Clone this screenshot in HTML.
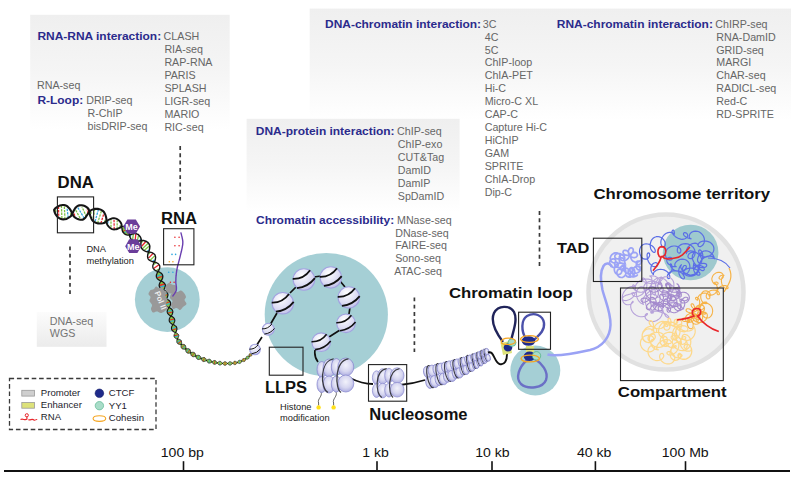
<!DOCTYPE html>
<html><head><meta charset="utf-8"><style>
html,body{margin:0;padding:0;background:#fff;width:799px;height:482px;overflow:hidden}
svg{display:block}
text{font-family:"Liberation Sans",sans-serif}
</style></head><body>
<svg width="799" height="482" viewBox="0 0 799 482">

<defs>
<linearGradient id="gTop" x1="0" y1="0" x2="0" y2="1">
  <stop offset="0" stop-color="#efefef"/><stop offset="0.5" stop-color="#f5f5f5"/><stop offset="1" stop-color="#ffffff"/>
</linearGradient>
<linearGradient id="gBot" x1="0" y1="0" x2="0" y2="1">
  <stop offset="0" stop-color="#fcfcfc"/><stop offset="1" stop-color="#ebebeb"/>
</linearGradient>
<radialGradient id="bead" cx="0.4" cy="0.3" r="0.75">
  <stop offset="0" stop-color="#ffffff"/><stop offset="0.3" stop-color="#eeeef9"/><stop offset="0.7" stop-color="#d8d8f1"/><stop offset="1" stop-color="#bcbce8"/>
</radialGradient>
<radialGradient id="lobe" cx="0.5" cy="0.4" r="0.65">
  <stop offset="0" stop-color="#f2f2fb"/><stop offset="0.55" stop-color="#d6d6f0"/><stop offset="1" stop-color="#a6a6de"/>
</radialGradient>
</defs>

<rect x="30.2" y="14.8" width="199.5" height="115" fill="url(#gTop)"/>
<rect x="309.7" y="8.6" width="481.3" height="112" fill="url(#gTop)"/>
<rect x="246.6" y="118.8" width="213" height="93" fill="url(#gTop)"/>
<rect x="36.8" y="312" width="69.7" height="34.8" fill="url(#gBot)"/>
<text transform="translate(37.4,40.2) scale(1.05,1)" font-size="11.4" fill="#2b2b8c" font-weight="bold">RNA-RNA interaction:</text>
<text x="163.6" y="40.2" font-size="10.7" fill="#666666" font-weight="normal">CLASH</text>
<text x="164.4" y="53.2" font-size="10.7" fill="#666666" font-weight="normal">RIA-seq</text>
<text x="164.4" y="66.1" font-size="10.7" fill="#666666" font-weight="normal">RAP-RNA</text>
<text x="164.4" y="79" font-size="10.7" fill="#666666" font-weight="normal">PARIS</text>
<text x="164.4" y="92" font-size="10.7" fill="#666666" font-weight="normal">SPLASH</text>
<text x="164.4" y="105" font-size="10.7" fill="#666666" font-weight="normal">LIGR-seq</text>
<text x="164.4" y="117.9" font-size="10.7" fill="#666666" font-weight="normal">MARIO</text>
<text x="164.4" y="130.8" font-size="10.7" fill="#666666" font-weight="normal">RIC-seq</text>
<text x="37" y="89.3" font-size="10.7" fill="#666666" font-weight="normal">RNA-seq</text>
<text transform="translate(37.4,104.2) scale(1.05,1)" font-size="11.4" fill="#2b2b8c" font-weight="bold">R-Loop:</text>
<text x="86.2" y="104.2" font-size="10.7" fill="#666666" font-weight="normal">DRIP-seq</text>
<text x="87.5" y="116.9" font-size="10.7" fill="#666666" font-weight="normal">R-ChIP</text>
<text x="87.5" y="129.5" font-size="10.7" fill="#666666" font-weight="normal">bisDRIP-seq</text>
<text transform="translate(325,27.5) scale(1.05,1)" font-size="11.4" fill="#2b2b8c" font-weight="bold">DNA-chromatin interaction:</text>
<text x="482.8" y="27.6" font-size="10.7" fill="#666666" font-weight="normal">3C</text>
<text x="484.7" y="40.5" font-size="10.7" fill="#666666" font-weight="normal">4C</text>
<text x="484.7" y="53.5" font-size="10.7" fill="#666666" font-weight="normal">5C</text>
<text x="484.7" y="66.4" font-size="10.7" fill="#666666" font-weight="normal">ChIP-loop</text>
<text x="484.7" y="79.4" font-size="10.7" fill="#666666" font-weight="normal">ChIA-PET</text>
<text x="484.7" y="92.3" font-size="10.7" fill="#666666" font-weight="normal">Hi-C</text>
<text x="484.7" y="105.3" font-size="10.7" fill="#666666" font-weight="normal">Micro-C XL</text>
<text x="484.7" y="118.2" font-size="10.7" fill="#666666" font-weight="normal">CAP-C</text>
<text x="484.7" y="131.2" font-size="10.7" fill="#666666" font-weight="normal">Capture Hi-C</text>
<text x="484.7" y="144.2" font-size="10.7" fill="#666666" font-weight="normal">HiChIP</text>
<text x="484.7" y="157.1" font-size="10.7" fill="#666666" font-weight="normal">GAM</text>
<text x="484.7" y="170" font-size="10.7" fill="#666666" font-weight="normal">SPRITE</text>
<text x="484.7" y="183" font-size="10.7" fill="#666666" font-weight="normal">ChIA-Drop</text>
<text x="484.7" y="195.9" font-size="10.7" fill="#666666" font-weight="normal">Dip-C</text>
<text transform="translate(556.8,27.5) scale(1.05,1)" font-size="11.4" fill="#2b2b8c" font-weight="bold">RNA-chromatin interaction:</text>
<text x="715.3" y="27.6" font-size="10.7" fill="#666666" font-weight="normal">ChIRP-seq</text>
<text x="716.3" y="40.5" font-size="10.7" fill="#666666" font-weight="normal">RNA-DamID</text>
<text x="716.3" y="53.5" font-size="10.7" fill="#666666" font-weight="normal">GRID-seq</text>
<text x="716.3" y="66.4" font-size="10.7" fill="#666666" font-weight="normal">MARGI</text>
<text x="716.3" y="79.4" font-size="10.7" fill="#666666" font-weight="normal">ChAR-seq</text>
<text x="716.3" y="92.3" font-size="10.7" fill="#666666" font-weight="normal">RADICL-seq</text>
<text x="716.3" y="105.3" font-size="10.7" fill="#666666" font-weight="normal">Red-C</text>
<text x="716.3" y="118.2" font-size="10.7" fill="#666666" font-weight="normal">RD-SPRITE</text>
<text transform="translate(255.8,135.2) scale(1.05,1)" font-size="11.4" fill="#2b2b8c" font-weight="bold">DNA-protein interaction:</text>
<text x="397.1" y="135.3" font-size="10.7" fill="#666666" font-weight="normal">ChIP-seq</text>
<text x="397.8" y="148.2" font-size="10.7" fill="#666666" font-weight="normal">ChIP-exo</text>
<text x="397.8" y="161" font-size="10.7" fill="#666666" font-weight="normal">CUT&amp;Tag</text>
<text x="397.8" y="173.9" font-size="10.7" fill="#666666" font-weight="normal">DamID</text>
<text x="397.8" y="186.7" font-size="10.7" fill="#666666" font-weight="normal">DamIP</text>
<text x="397.8" y="199.6" font-size="10.7" fill="#666666" font-weight="normal">SpDamID</text>
<text transform="translate(256,223.9) scale(1.05,1)" font-size="11.4" fill="#2b2b8c" font-weight="bold">Chromatin accessibility:</text>
<text x="397" y="223.9" font-size="10.7" fill="#666666" font-weight="normal">MNase-seq</text>
<text x="395.2" y="236.6" font-size="10.7" fill="#666666" font-weight="normal">DNase-seq</text>
<text x="395.2" y="249.3" font-size="10.7" fill="#666666" font-weight="normal">FAIRE-seq</text>
<text x="395.2" y="262" font-size="10.7" fill="#666666" font-weight="normal">Sono-seq</text>
<text x="394.3" y="274.7" font-size="10.7" fill="#666666" font-weight="normal">ATAC-seq</text>
<text x="49.8" y="324.5" font-size="10.7" fill="#747474" font-weight="normal">DNA-seq</text>
<text x="49.8" y="337.4" font-size="10.7" fill="#747474" font-weight="normal">WGS</text>
<line x1="180.2" y1="146" x2="180.2" y2="200.5" stroke="#3a3a3a" stroke-width="1.7" stroke-dasharray="3.9 3.4"/>
<line x1="70" y1="246.4" x2="70" y2="294" stroke="#3a3a3a" stroke-width="1.7" stroke-dasharray="3.9 3.4"/>
<line x1="414.4" y1="297.4" x2="414.4" y2="352" stroke="#3a3a3a" stroke-width="1.7" stroke-dasharray="3.9 3.4"/>
<line x1="539.5" y1="211" x2="539.5" y2="266" stroke="#3a3a3a" stroke-width="1.7" stroke-dasharray="3.9 3.4"/>
<circle cx="167.3" cy="299.6" r="32.4" fill="#a5cfd5"/>
<circle cx="326.3" cy="314.5" r="61.6" fill="#a5cfd5"/>
<circle cx="666" cy="292" r="77.5" fill="#f0f0f0" stroke="#e1e1e1" stroke-width="4.5"/>
<circle cx="690.6" cy="252.5" r="27.8" fill="#9ec9ce"/>
<circle cx="535.3" cy="370.5" r="25" fill="#a5cfd5"/>
<path d="M54.1 209.8 L54.4 211.4 L54.8 212.7 L55.4 214 L56.2 215.2 L57 216.3 L58 217.3 L59.2 218.2 L60.4 218.8 L61.8 219.2 L63.2 219.4 L64.8 219.3 L66.4 218.9 L67.9 218.2 L69.5 217.2 L71 216 L72.3 213.8 L72.3 213.8 L71.3 211.5 L70.4 209.9 L69.4 208.5 L68.4 207.4 L67.4 206.4 L66.3 205.7 L65.1 205.3 L63.9 205 L62.6 205 L61.3 205.2 L59.9 205.6 L58.6 206.1 L57.4 206.8 L56.2 207.6 L55.1 208.5 L54.1 209.8Z" fill="#fff"/>
<path d="M72.3 213.8 L73.5 216.2 L74.9 217.5 L76.4 218.4 L77.8 219.1 L79.2 219.5 L80.5 219.7 L81.6 219.7 L82.6 219.6 L83.5 219.2 L84.3 218.7 L85 218.1 L85.6 217.3 L86.2 216.3 L87 215.2 L87.9 213.9 L89.4 211.8 L89.4 211.8 L88.7 209.3 L87.5 207.8 L86.2 206.8 L84.7 206 L83.2 205.5 L81.8 205.2 L80.4 205.2 L79.2 205.4 L78.1 205.7 L77.1 206.3 L76.3 207 L75.5 207.8 L74.8 208.8 L74.1 210 L73.3 211.5 L72.3 213.8Z" fill="#fff"/>
<path d="M89.4 211.8 L89.8 214 L90.2 215.6 L90.7 216.9 L91.2 218.1 L91.7 219.3 L92.4 220.3 L93.2 221.2 L94.2 221.9 L95.3 222.5 L96.6 223 L98 223.4 L99.5 223.5 L101.1 223.5 L102.8 223.2 L104.6 222.7 L106.5 221.3 L106.5 221.3 L106.4 218.9 L106.1 217.2 L105.7 215.7 L105.2 214.4 L104.6 213.2 L103.9 212 L103 211.1 L102 210.3 L100.7 209.6 L99.4 209.2 L97.9 208.9 L96.3 208.8 L94.6 208.9 L92.9 209.4 L91.2 210.1 L89.4 211.8Z" fill="#fff"/>
<path d="M106.5 221.3 L106.8 223.5 L107.5 225 L108.3 226.2 L109.2 227.2 L110.2 228.1 L111.2 228.7 L112.1 229.1 L113.1 229.4 L114.1 229.5 L115 229.4 L116 229.3 L117 229 L117.9 228.6 L119 228.1 L120.1 227.6 L121.6 226.6 L121.6 226.6 L121.6 224.8 L121.2 223.5 L120.5 222.3 L119.8 221.3 L119 220.4 L118.1 219.7 L117.1 219.1 L116.1 218.7 L115.1 218.4 L114.1 218.2 L113 218.3 L111.9 218.4 L110.8 218.8 L109.6 219.3 L108.2 220 L106.5 221.3Z" fill="#fff"/>
<path d="M121.6 226.6 L121.8 227.7 L122 228.6 L122.1 229.4 L122.2 230.1 L122.4 230.7 L122.6 231.4 L122.9 232 L123.3 232.5 L123.8 233.1 L124.3 233.6 L125 234.1 L125.8 234.5 L126.6 234.8 L127.5 235.1 L128.4 235.1 L129.5 235 L129.5 235 L129.4 233.9 L129.3 233.1 L129.2 232.3 L129.1 231.6 L129 230.9 L128.8 230.3 L128.6 229.6 L128.2 229 L127.8 228.5 L127.2 227.9 L126.5 227.4 L125.7 227 L124.8 226.7 L123.9 226.4 L122.8 226.4 L121.6 226.6Z" fill="#86c545"/>
<path d="M129.5 235 L129.7 236.2 L130.1 237.3 L130.6 238.3 L131.2 239.2 L131.9 239.9 L132.6 240.5 L133.3 241 L134 241.4 L134.8 241.6 L135.5 241.7 L136.3 241.6 L137.1 241.5 L138 241.3 L138.9 241.1 L140 240.9 L141.2 240.6 L141.2 240.6 L141.2 239.3 L140.9 238.2 L140.4 237.2 L139.8 236.2 L139.1 235.4 L138.4 234.7 L137.6 234.2 L136.7 233.9 L135.9 233.6 L135 233.6 L134.2 233.6 L133.3 233.8 L132.4 234 L131.5 234.3 L130.6 234.6 L129.5 235Z" fill="#fff"/>
<path d="M141.2 240.6 L141 241.9 L140.9 242.9 L140.9 243.9 L140.8 244.9 L140.8 245.8 L141 246.6 L141.2 247.4 L141.5 248.1 L142 248.8 L142.6 249.5 L143.4 250.1 L144.2 250.6 L145.2 251.1 L146.2 251.5 L147.3 251.8 L148.6 252 L148.6 252 L149.1 250.8 L149.4 249.7 L149.6 248.6 L149.7 247.6 L149.8 246.6 L149.7 245.7 L149.4 244.8 L149 243.9 L148.5 243.1 L147.8 242.4 L146.9 241.8 L146 241.3 L144.9 240.9 L143.7 240.6 L142.5 240.5 L141.2 240.6Z" fill="#fff"/>
<path d="M148.6 252 L148.1 253.2 L147.8 254.3 L147.7 255.3 L147.6 256.2 L147.6 257 L147.8 257.8 L148 258.5 L148.3 259.1 L148.7 259.6 L149.3 260.1 L149.9 260.5 L150.6 260.9 L151.4 261.2 L152.2 261.5 L153.2 261.8 L154.3 262 L154.3 262 L154.8 261 L155.2 260 L155.4 259.1 L155.5 258.2 L155.6 257.4 L155.5 256.6 L155.3 255.9 L155.1 255.2 L154.7 254.5 L154.1 254 L153.5 253.5 L152.8 253.1 L151.9 252.7 L151 252.4 L149.9 252.1 L148.6 252Z" fill="#fff"/>
<path d="M154.3 262 L153.8 263 L153.4 263.9 L153.1 264.7 L152.9 265.4 L152.8 266.1 L152.8 266.8 L152.9 267.4 L153 268 L153.3 268.5 L153.7 269.1 L154.2 269.5 L154.7 270 L155.4 270.4 L156.1 270.8 L157 271.2 L158 271.5 L158 271.5 L158.6 270.6 L159 269.8 L159.4 269 L159.6 268.3 L159.8 267.6 L159.8 266.9 L159.8 266.2 L159.6 265.6 L159.3 265 L158.9 264.4 L158.5 263.9 L157.8 263.4 L157.1 263 L156.3 262.6 L155.4 262.2 L154.3 262Z" fill="#fff"/>
<path d="M158 271.5 L157.4 272.4 L157.1 273.1 L156.8 273.9 L156.5 274.6 L156.4 275.3 L156.3 276 L156.4 276.6 L156.5 277.2 L156.8 277.8 L157.1 278.3 L157.5 278.9 L158 279.3 L158.6 279.8 L159.3 280.2 L160.1 280.6 L161 281 L161 281 L161.6 280.2 L162 279.4 L162.3 278.7 L162.6 278 L162.7 277.3 L162.8 276.6 L162.8 276 L162.6 275.3 L162.4 274.7 L162.1 274.2 L161.6 273.6 L161.1 273.1 L160.5 272.7 L159.8 272.2 L159 271.8 L158 271.5Z" fill="#86c545"/>
<path d="M161 281 L160.4 281.8 L160 282.5 L159.7 283.2 L159.4 283.9 L159.2 284.6 L159.1 285.2 L159.2 285.8 L159.3 286.3 L159.5 286.9 L159.8 287.4 L160.2 287.9 L160.6 288.4 L161.2 288.8 L161.9 289.3 L162.6 289.7 L163.5 290 L163.5 290 L164.1 289.2 L164.5 288.5 L164.8 287.8 L165.1 287.1 L165.3 286.5 L165.4 285.9 L165.4 285.3 L165.3 284.7 L165.1 284.2 L164.8 283.7 L164.4 283.1 L163.9 282.7 L163.3 282.2 L162.7 281.8 L161.9 281.4 L161 281Z" fill="#86c545"/>
<path d="M163.5 290 L163 290.8 L162.6 291.5 L162.3 292.2 L162 292.9 L161.9 293.6 L161.9 294.2 L161.9 294.8 L162 295.4 L162.3 296 L162.6 296.5 L163 297 L163.5 297.5 L164.1 297.9 L164.7 298.3 L165.4 298.7 L166.3 299 L166.3 299 L166.8 298.2 L167.2 297.5 L167.5 296.8 L167.7 296.1 L167.9 295.5 L167.9 294.8 L167.9 294.2 L167.7 293.6 L167.5 293.1 L167.2 292.6 L166.8 292.1 L166.3 291.6 L165.7 291.2 L165.1 290.7 L164.4 290.3 L163.5 290Z" fill="#86c545"/>
<path d="M166.3 299 L165.8 299.8 L165.4 300.5 L165.1 301.2 L164.9 301.8 L164.8 302.5 L164.8 303.1 L164.8 303.6 L164.9 304.2 L165.2 304.7 L165.5 305.2 L165.9 305.6 L166.3 306 L166.9 306.4 L167.5 306.8 L168.2 307.2 L169 307.5 L169 307.5 L169.5 306.8 L169.9 306.1 L170.2 305.4 L170.4 304.8 L170.6 304.1 L170.6 303.5 L170.6 302.9 L170.5 302.4 L170.2 301.9 L169.9 301.4 L169.5 300.9 L169.1 300.5 L168.5 300.1 L167.9 299.7 L167.2 299.3 L166.3 299Z" fill="#86c545"/>
<path d="M169 307.5 L168.5 308.2 L168.1 308.9 L167.8 309.5 L167.5 310.1 L167.3 310.7 L167.2 311.3 L167.2 311.8 L167.3 312.4 L167.5 312.9 L167.7 313.4 L168.1 313.9 L168.5 314.3 L169 314.8 L169.5 315.2 L170.2 315.6 L171 316 L171 316 L171.6 315.3 L172 314.7 L172.3 314 L172.5 313.4 L172.7 312.8 L172.8 312.2 L172.8 311.7 L172.8 311.1 L172.6 310.6 L172.4 310.1 L172 309.6 L171.6 309.1 L171.1 308.7 L170.5 308.3 L169.8 307.9 L169 307.5Z" fill="#86c545"/>
<path d="M171 316 L170.4 316.7 L170 317.3 L169.7 318 L169.4 318.6 L169.3 319.2 L169.2 319.8 L169.2 320.4 L169.2 320.9 L169.4 321.4 L169.7 321.9 L170 322.4 L170.5 322.9 L171 323.3 L171.5 323.8 L172.2 324.2 L173 324.5 L173 324.5 L173.5 323.8 L173.9 323.2 L174.2 322.5 L174.5 321.9 L174.7 321.3 L174.8 320.8 L174.8 320.2 L174.7 319.7 L174.5 319.1 L174.3 318.6 L174 318.2 L173.5 317.7 L173 317.2 L172.5 316.8 L171.8 316.4 L171 316Z" fill="#86c545"/>
<path d="M173 324.5 L172.5 325.2 L172.1 325.9 L171.8 326.5 L171.6 327.2 L171.5 327.8 L171.5 328.4 L171.5 328.9 L171.7 329.5 L171.9 329.9 L172.2 330.4 L172.6 330.8 L173.1 331.2 L173.6 331.6 L174.1 331.9 L174.8 332.2 L175.5 332.5 L175.5 332.5 L176 331.9 L176.3 331.2 L176.5 330.6 L176.7 330 L176.9 329.4 L176.9 328.9 L176.9 328.3 L176.8 327.8 L176.6 327.3 L176.4 326.8 L176 326.4 L175.6 326 L175 325.6 L174.5 325.2 L173.8 324.8 L173 324.5Z" fill="#86c545"/>
<path d="M175.5 332.5 L175 333.1 L174.7 333.7 L174.4 334.2 L174.2 334.7 L174 335.2 L174 335.6 L174 336.1 L174.1 336.5 L174.2 336.9 L174.5 337.3 L174.8 337.7 L175.2 338.1 L175.7 338.4 L176.2 338.6 L176.8 338.9 L177.5 339 L177.5 339 L177.8 338.4 L178.1 337.9 L178.3 337.4 L178.5 336.9 L178.6 336.5 L178.7 336.1 L178.8 335.7 L178.7 335.3 L178.6 334.9 L178.4 334.5 L178.1 334.2 L177.8 333.8 L177.4 333.4 L176.9 333.1 L176.3 332.8 L175.5 332.5Z" fill="#86c545"/>
<path d="M177.5 339 L177.1 339.6 L176.9 340.2 L176.8 340.8 L176.8 341.4 L176.8 341.9 L176.9 342.4 L177.1 342.8 L177.3 343.2 L177.6 343.5 L178 343.8 L178.4 344 L178.9 344.2 L179.4 344.3 L180 344.4 L180.6 344.4 L181.3 344.4 L181.3 344.4 L181.4 343.7 L181.5 343.1 L181.6 342.5 L181.6 342 L181.5 341.5 L181.4 341.1 L181.3 340.7 L181.1 340.4 L180.8 340.1 L180.5 339.9 L180.1 339.7 L179.7 339.5 L179.3 339.3 L178.7 339.2 L178.2 339.1 L177.5 339Z" fill="#86c545"/>
<path d="M181.3 344.4 L181.1 345.1 L181 345.7 L181 346.2 L181.1 346.8 L181.2 347.2 L181.3 347.7 L181.6 348 L181.8 348.4 L182.2 348.6 L182.5 348.9 L183 349 L183.4 349.1 L184 349.2 L184.5 349.2 L185.1 349.1 L185.8 348.9 L185.8 348.9 L185.8 348.3 L185.9 347.7 L185.8 347.1 L185.7 346.6 L185.6 346.2 L185.5 345.8 L185.3 345.4 L185.1 345.1 L184.8 344.9 L184.4 344.7 L184 344.5 L183.6 344.4 L183.1 344.4 L182.6 344.3 L182 344.3 L181.3 344.4Z" fill="#86c545"/>
<path d="M185.8 348.9 L185.7 349.6 L185.7 350.2 L185.8 350.8 L185.9 351.3 L186.1 351.7 L186.3 352.1 L186.5 352.4 L186.8 352.7 L187.2 352.9 L187.6 353.1 L188 353.2 L188.5 353.2 L189 353.2 L189.5 353.1 L190.1 353 L190.7 352.8 L190.7 352.8 L190.7 352.1 L190.6 351.5 L190.5 351 L190.4 350.6 L190.2 350.1 L190 349.8 L189.8 349.4 L189.5 349.2 L189.2 349 L188.9 348.8 L188.5 348.7 L188 348.7 L187.5 348.7 L187 348.7 L186.4 348.8 L185.8 348.9Z" fill="#86c545"/>
<path d="M190.7 352.8 L190.7 353.5 L190.8 354 L190.9 354.5 L191 355 L191.2 355.4 L191.5 355.8 L191.8 356.1 L192.1 356.3 L192.4 356.5 L192.8 356.6 L193.2 356.7 L193.7 356.7 L194.2 356.6 L194.7 356.5 L195.2 356.3 L195.8 356 L195.8 356 L195.7 355.4 L195.6 354.8 L195.5 354.3 L195.3 353.9 L195.1 353.5 L194.9 353.2 L194.7 352.9 L194.4 352.7 L194.1 352.5 L193.7 352.4 L193.3 352.3 L192.8 352.3 L192.4 352.3 L191.9 352.4 L191.3 352.6 L190.7 352.8Z" fill="#86c545"/>
<path d="M195.8 356 L195.9 356.7 L196 357.2 L196.2 357.7 L196.4 358.1 L196.7 358.5 L196.9 358.8 L197.2 359.1 L197.6 359.3 L197.9 359.4 L198.3 359.5 L198.7 359.5 L199.2 359.4 L199.6 359.3 L200.1 359.1 L200.6 358.9 L201.1 358.5 L201.1 358.5 L201 357.9 L200.8 357.4 L200.6 357 L200.4 356.5 L200.2 356.2 L199.9 355.9 L199.6 355.6 L199.3 355.5 L199 355.3 L198.6 355.3 L198.3 355.3 L197.8 355.3 L197.4 355.4 L196.9 355.5 L196.4 355.7 L195.8 356Z" fill="#86c545"/>
<path d="M201.1 358.5 L201.3 359.2 L201.5 359.7 L201.7 360.1 L202 360.5 L202.2 360.8 L202.5 361.1 L202.9 361.3 L203.2 361.5 L203.6 361.5 L203.9 361.6 L204.3 361.5 L204.7 361.4 L205.2 361.2 L205.6 361 L206.1 360.8 L206.5 360.4 L206.5 360.4 L206.4 359.8 L206.1 359.3 L205.9 358.9 L205.6 358.5 L205.4 358.2 L205.1 357.9 L204.8 357.7 L204.5 357.6 L204.1 357.5 L203.8 357.5 L203.4 357.5 L203 357.6 L202.6 357.8 L202.1 357.9 L201.7 358.2 L201.1 358.5Z" fill="#86c545"/>
<path d="M206.5 360.4 L206.7 361 L207 361.4 L207.2 361.9 L207.5 362.2 L207.8 362.5 L208.1 362.8 L208.4 363 L208.7 363.1 L209.1 363.2 L209.4 363.1 L209.8 363.1 L210.2 363 L210.6 362.8 L211 362.5 L211.5 362.3 L211.9 361.9 L211.9 361.9 L211.7 361.3 L211.4 360.9 L211.2 360.5 L210.9 360.1 L210.7 359.8 L210.4 359.6 L210.1 359.4 L209.8 359.3 L209.4 359.2 L209.1 359.2 L208.7 359.3 L208.3 359.4 L207.9 359.5 L207.5 359.7 L207 360 L206.5 360.4Z" fill="#86c545"/>
<path d="M211.9 361.9 L212.1 362.4 L212.4 362.9 L212.7 363.2 L213 363.6 L213.3 363.8 L213.6 364.1 L213.9 364.2 L214.2 364.3 L214.6 364.3 L214.9 364.3 L215.3 364.2 L215.7 364.1 L216.1 363.9 L216.4 363.6 L216.8 363.3 L217.2 362.9 L217.2 362.9 L217 362.3 L216.7 361.9 L216.4 361.6 L216.1 361.2 L215.8 361 L215.6 360.8 L215.2 360.6 L214.9 360.5 L214.6 360.5 L214.3 360.5 L213.9 360.6 L213.5 360.7 L213.2 360.9 L212.8 361.2 L212.4 361.5 L211.9 361.9Z" fill="#86c545"/>
<path d="M217.2 362.9 L217.5 363.4 L217.8 363.8 L218.1 364.1 L218.4 364.4 L218.7 364.7 L219 364.9 L219.3 365 L219.7 365 L220 365 L220.3 365 L220.7 364.9 L221 364.7 L221.4 364.5 L221.7 364.2 L222.1 363.8 L222.5 363.4 L222.5 363.4 L222.2 362.9 L221.9 362.6 L221.6 362.2 L221.3 361.9 L221 361.7 L220.7 361.5 L220.4 361.4 L220 361.3 L219.7 361.3 L219.4 361.4 L219.1 361.5 L218.7 361.7 L218.4 361.9 L218 362.1 L217.6 362.4 L217.2 362.9Z" fill="#a6cc40"/>
<path d="M222.5 363.4 L222.7 363.9 L223.1 364.3 L223.4 364.6 L223.7 364.8 L224 365 L224.3 365.2 L224.7 365.3 L225 365.3 L225.3 365.3 L225.6 365.2 L226 365.1 L226.3 364.9 L226.6 364.6 L226.9 364.3 L227.2 364 L227.6 363.5 L227.6 363.5 L227.2 363.1 L226.9 362.7 L226.6 362.4 L226.3 362.2 L226 362 L225.7 361.8 L225.4 361.8 L225.1 361.7 L224.7 361.7 L224.4 361.8 L224.1 361.9 L223.8 362.1 L223.5 362.4 L223.1 362.6 L222.8 363 L222.5 363.4Z" fill="#a6cc40"/>
<path d="M227.6 363.5 L227.9 364 L228.2 364.3 L228.5 364.6 L228.9 364.8 L229.2 365 L229.5 365.1 L229.8 365.2 L230.2 365.2 L230.5 365.1 L230.8 365 L231.1 364.8 L231.4 364.6 L231.7 364.4 L232 364 L232.2 363.7 L232.5 363.2 L232.5 363.2 L232.2 362.8 L231.8 362.5 L231.5 362.3 L231.2 362 L230.9 361.9 L230.6 361.8 L230.2 361.7 L229.9 361.7 L229.6 361.7 L229.3 361.8 L229 362 L228.8 362.2 L228.5 362.4 L228.2 362.7 L227.9 363.1 L227.6 363.5Z" fill="#a6cc40"/>
<path d="M232.5 363.2 L232.9 363.6 L233.2 363.9 L233.5 364.1 L233.9 364.3 L234.2 364.5 L234.5 364.6 L234.9 364.6 L235.2 364.6 L235.5 364.5 L235.8 364.4 L236.1 364.2 L236.3 364 L236.6 363.7 L236.8 363.3 L237.1 363 L237.3 362.5 L237.3 362.5 L236.9 362.2 L236.5 361.9 L236.2 361.7 L235.9 361.5 L235.6 361.4 L235.3 361.3 L235 361.3 L234.7 361.3 L234.4 361.3 L234.1 361.4 L233.8 361.6 L233.6 361.8 L233.3 362.1 L233 362.4 L232.8 362.8 L232.5 363.2Z" fill="#a6cc40"/>
<path d="M237.3 362.5 L237.7 362.8 L238 363 L238.4 363.2 L238.8 363.4 L239.1 363.4 L239.4 363.5 L239.8 363.5 L240.1 363.4 L240.3 363.3 L240.6 363.1 L240.8 362.8 L241.1 362.6 L241.3 362.3 L241.4 361.9 L241.6 361.5 L241.7 361 L241.7 361 L241.3 360.8 L240.9 360.6 L240.5 360.4 L240.2 360.3 L239.9 360.3 L239.6 360.2 L239.3 360.2 L239 360.3 L238.8 360.4 L238.5 360.6 L238.3 360.8 L238.1 361 L237.9 361.3 L237.7 361.6 L237.5 362 L237.3 362.5Z" fill="#a6cc40"/>
<path d="M241.7 361 L242.1 361.3 L242.5 361.4 L242.9 361.5 L243.3 361.6 L243.6 361.6 L243.9 361.6 L244.2 361.5 L244.5 361.4 L244.8 361.3 L245 361 L245.2 360.8 L245.4 360.5 L245.5 360.1 L245.6 359.8 L245.7 359.4 L245.7 358.9 L245.7 358.9 L245.3 358.7 L244.9 358.6 L244.5 358.5 L244.2 358.5 L243.9 358.5 L243.6 358.5 L243.3 358.6 L243 358.7 L242.8 358.8 L242.6 359 L242.4 359.2 L242.2 359.5 L242.1 359.8 L241.9 360.2 L241.8 360.5 L241.7 361Z" fill="#a6cc40"/>
<path d="M245.7 358.9 L246.2 359.1 L246.6 359.2 L247 359.2 L247.3 359.2 L247.7 359.2 L248 359.1 L248.3 359 L248.5 358.8 L248.7 358.6 L248.9 358.3 L249.1 358 L249.2 357.7 L249.2 357.4 L249.3 357 L249.3 356.6 L249.2 356.2 L249.2 356.2 L248.8 356.1 L248.4 356.1 L248.1 356.1 L247.8 356.1 L247.5 356.1 L247.2 356.2 L246.9 356.3 L246.7 356.4 L246.5 356.6 L246.3 356.8 L246.1 357 L246 357.3 L245.9 357.7 L245.8 358 L245.8 358.4 L245.7 358.9Z" fill="#a6cc40"/>
<path d="M249.2 356.2 L249.7 356.3 L250.1 356.3 L250.5 356.3 L250.8 356.2 L251.1 356.1 L251.4 356 L251.6 355.8 L251.7 355.6 L251.8 355.3 L251.8 355 L251.8 354.8 L251.8 354.5 L251.7 354.2 L251.7 354 L251.6 353.7 L251.5 353.5 L251.5 353.5 L251.3 353.5 L251 353.4 L250.7 353.5 L250.5 353.5 L250.2 353.5 L249.9 353.6 L249.7 353.7 L249.5 353.8 L249.3 354 L249.2 354.2 L249.1 354.4 L249 354.7 L249 355 L249.1 355.4 L249.1 355.8 L249.2 356.2Z" fill="#a6cc40"/>
<line x1="55.7" y1="211.9" x2="55.6" y2="208.4" stroke="#7cc242" stroke-width="1.25" stroke-dasharray="2.4 1"/><line x1="58.7" y1="215.8" x2="58.5" y2="206.2" stroke="#e8262b" stroke-width="1.25" stroke-dasharray="2.4 1"/><line x1="61.9" y1="218.3" x2="61.4" y2="205.3" stroke="#7cc242" stroke-width="1.25" stroke-dasharray="2.4 1"/><line x1="65" y1="219.1" x2="64.3" y2="206" stroke="#7cc242" stroke-width="1.25" stroke-dasharray="2.4 1"/><line x1="68.2" y1="217.9" x2="67.1" y2="208.4" stroke="#2fa7e0" stroke-width="1.25" stroke-dasharray="2.4 1"/><line x1="71" y1="215.4" x2="70.5" y2="211.9" stroke="#7cc242" stroke-width="1.25" stroke-dasharray="2.4 1"/><line x1="74.8" y1="215.8" x2="73.3" y2="211.8" stroke="#e8262b" stroke-width="1.25" stroke-dasharray="2.4 1"/><line x1="80.1" y1="218.2" x2="74.8" y2="208.4" stroke="#7cc242" stroke-width="1.25" stroke-dasharray="2.4 1"/><line x1="84.3" y1="218.4" x2="77.3" y2="206.6" stroke="#2fa7e0" stroke-width="1.25" stroke-dasharray="2.4 1"/><line x1="86.5" y1="216.8" x2="81.9" y2="206.7" stroke="#7cc242" stroke-width="1.25" stroke-dasharray="2.4 1"/><line x1="88.1" y1="213.6" x2="87.2" y2="209.5" stroke="#e8262b" stroke-width="1.25" stroke-dasharray="2.4 1"/><line x1="90.9" y1="214" x2="91.1" y2="210.6" stroke="#7cc242" stroke-width="1.25" stroke-dasharray="2.4 1"/><line x1="93" y1="218.1" x2="94.9" y2="209" stroke="#7cc242" stroke-width="1.25" stroke-dasharray="2.4 1"/><line x1="95.1" y1="221.4" x2="98.5" y2="209.1" stroke="#2fa7e0" stroke-width="1.25" stroke-dasharray="2.4 1"/><line x1="97.6" y1="223.1" x2="101.4" y2="211" stroke="#7cc242" stroke-width="1.25" stroke-dasharray="2.4 1"/><line x1="100.9" y1="223.3" x2="103.6" y2="214.4" stroke="#e8262b" stroke-width="1.25" stroke-dasharray="2.4 1"/><line x1="104.7" y1="222.2" x2="105.4" y2="218.9" stroke="#7cc242" stroke-width="1.25" stroke-dasharray="2.4 1"/><line x1="107.8" y1="223.5" x2="108.1" y2="220.3" stroke="#2fa7e0" stroke-width="1.25" stroke-dasharray="2.4 1"/><line x1="111" y1="227.2" x2="111" y2="218.7" stroke="#7cc242" stroke-width="1.25" stroke-dasharray="2.4 1"/><line x1="114.2" y1="229.1" x2="114" y2="218.6" stroke="#e8262b" stroke-width="1.25" stroke-dasharray="2.4 1"/><line x1="117.1" y1="229" x2="117.2" y2="220.5" stroke="#7cc242" stroke-width="1.25" stroke-dasharray="2.4 1"/><line x1="119.9" y1="227.5" x2="120.4" y2="224.3" stroke="#7cc242" stroke-width="1.25" stroke-dasharray="2.4 1"/><line x1="122.9" y1="231.6" x2="127.3" y2="228.3" stroke="#e8262b" stroke-width="1.0"/><line x1="124.2" y1="233.2" x2="128.6" y2="230" stroke="#2fa7e0" stroke-width="1.0"/><line x1="130.3" y1="236.8" x2="130.9" y2="234.6" stroke="#2fa7e0" stroke-width="1.3"/><line x1="132.6" y1="239.7" x2="133.4" y2="233.8" stroke="#7cc242" stroke-width="1.3"/><line x1="135.1" y1="241.3" x2="135.8" y2="233.9" stroke="#e8262b" stroke-width="1.3"/><line x1="137.3" y1="241.5" x2="138.4" y2="235.6" stroke="#7cc242" stroke-width="1.3"/><line x1="139.8" y1="240.9" x2="140.6" y2="238.7" stroke="#2fa7e0" stroke-width="1.3"/><line x1="141.5" y1="242.6" x2="142.8" y2="240.5" stroke="#7cc242" stroke-width="1.3"/><line x1="141.7" y1="246.2" x2="146" y2="241.3" stroke="#e8262b" stroke-width="1.3"/><line x1="142.4" y1="248.8" x2="148.2" y2="243.3" stroke="#7cc242" stroke-width="1.3"/><line x1="144.2" y1="250.6" x2="149" y2="246.3" stroke="#7cc242" stroke-width="1.3"/><line x1="147" y1="251.7" x2="148.8" y2="250" stroke="#2fa7e0" stroke-width="1.3"/><line x1="148.4" y1="254.2" x2="150.3" y2="252.2" stroke="#7cc242" stroke-width="1.3"/><line x1="148.5" y1="258.1" x2="153.2" y2="253.3" stroke="#e8262b" stroke-width="1.3"/><line x1="149.9" y1="260.5" x2="154.7" y2="255.9" stroke="#7cc242" stroke-width="1.3"/><line x1="152.6" y1="261.6" x2="154.7" y2="259.8" stroke="#2fa7e0" stroke-width="1.3"/><line x1="153.7" y1="264.5" x2="156.3" y2="262.5" stroke="#7cc242" stroke-width="1.3"/><line x1="153.6" y1="268.5" x2="159" y2="264.8" stroke="#e8262b" stroke-width="1.3"/><line x1="156.1" y1="270.8" x2="158.8" y2="269" stroke="#7cc242" stroke-width="1.3"/><line x1="156.5" y1="276.4" x2="162.1" y2="274.6" stroke="#2fa7e0" stroke-width="1.3"/><line x1="157.1" y1="278" x2="162.6" y2="276.3" stroke="#e8262b" stroke-width="1.3"/><line x1="159.3" y1="285.5" x2="164.8" y2="284" stroke="#e8262b" stroke-width="1.3"/><line x1="159.8" y1="287.1" x2="165.2" y2="285.7" stroke="#2fa7e0" stroke-width="1.3"/><line x1="162" y1="294.6" x2="167.3" y2="293" stroke="#2fa7e0" stroke-width="1.0"/><line x1="162.6" y1="296.2" x2="167.7" y2="294.6" stroke="#e8262b" stroke-width="1.0"/><line x1="164.9" y1="303.4" x2="170" y2="301.7" stroke="#e8262b" stroke-width="1.0"/><line x1="165.5" y1="304.9" x2="170.5" y2="303.3" stroke="#2fa7e0" stroke-width="1.0"/><line x1="167.4" y1="311.6" x2="172.4" y2="310.5" stroke="#2fa7e0" stroke-width="1.0"/><line x1="167.8" y1="313.1" x2="172.7" y2="312" stroke="#e8262b" stroke-width="1.0"/><line x1="169.3" y1="320.1" x2="174.3" y2="319" stroke="#e8262b" stroke-width="1.0"/><line x1="169.7" y1="321.7" x2="174.6" y2="320.5" stroke="#2fa7e0" stroke-width="1.0"/><line x1="171.6" y1="328.6" x2="176.4" y2="327.1" stroke="#2fa7e0" stroke-width="1.0"/><line x1="172.2" y1="330.1" x2="176.8" y2="328.6" stroke="#e8262b" stroke-width="1.0"/><line x1="174.1" y1="335.8" x2="178.4" y2="334.7" stroke="#e8262b" stroke-width="1.0"/><line x1="174.4" y1="337" x2="178.6" y2="335.9" stroke="#2fa7e0" stroke-width="1.0"/><line x1="177.1" y1="342.6" x2="180.6" y2="340.1" stroke="#2fa7e0" stroke-width="1.0"/><line x1="177.9" y1="343.6" x2="181.3" y2="341" stroke="#e8262b" stroke-width="1.0"/><line x1="181.6" y1="347.8" x2="184.6" y2="344.9" stroke="#e8262b" stroke-width="0.7"/><line x1="182.4" y1="348.7" x2="185.3" y2="345.7" stroke="#2fa7e0" stroke-width="0.7"/><line x1="186.5" y1="352.2" x2="189" y2="349" stroke="#2fa7e0" stroke-width="0.7"/><line x1="187.5" y1="352.9" x2="189.9" y2="349.7" stroke="#e8262b" stroke-width="0.7"/><line x1="192.1" y1="356.2" x2="194.3" y2="352.7" stroke="#e8262b" stroke-width="0.7"/><line x1="197.6" y1="359.2" x2="199.3" y2="355.6" stroke="#2fa7e0" stroke-width="0.7"/><line x1="203.2" y1="361.4" x2="204.4" y2="357.7" stroke="#e8262b" stroke-width="0.7"/><line x1="208.7" y1="363" x2="209.7" y2="359.4" stroke="#2fa7e0" stroke-width="0.7"/><line x1="214.2" y1="364.2" x2="214.9" y2="360.6" stroke="#e8262b" stroke-width="0.7"/><line x1="219.6" y1="365" x2="220" y2="361.4" stroke="#2fa7e0" stroke-width="0.7"/><line x1="225" y1="365.2" x2="225" y2="361.8" stroke="#e8262b" stroke-width="0.7"/><line x1="230.1" y1="365.1" x2="229.9" y2="361.8" stroke="#2fa7e0" stroke-width="0.7"/><line x1="235.1" y1="364.5" x2="234.7" y2="361.3" stroke="#e8262b" stroke-width="0.7"/><line x1="240" y1="363.3" x2="239" y2="360.4" stroke="#2fa7e0" stroke-width="0.7"/><line x1="244.5" y1="361.4" x2="243.1" y2="358.7" stroke="#e8262b" stroke-width="0.7"/><line x1="248.4" y1="358.8" x2="246.7" y2="356.5" stroke="#2fa7e0" stroke-width="0.7"/><line x1="251.5" y1="355.8" x2="249.3" y2="354" stroke="#e8262b" stroke-width="0.7"/>
<path d="M54.1 209.8 L54.4 211.4 L54.8 212.7 L55.4 214 L56.2 215.2 L57 216.3 L58 217.3 L59.2 218.2 L60.4 218.8 L61.8 219.2 L63.2 219.4 L64.8 219.3 L66.4 218.9 L67.9 218.2 L69.5 217.2 L71 216 L72.3 213.8 M54.1 209.8 L55.1 208.5 L56.2 207.6 L57.4 206.8 L58.6 206.1 L59.9 205.6 L61.3 205.2 L62.6 205 L63.9 205 L65.1 205.3 L66.3 205.7 L67.4 206.4 L68.4 207.4 L69.4 208.5 L70.4 209.9 L71.3 211.5 L72.3 213.8" fill="none" stroke="#151515" stroke-width="2.1" stroke-linecap="round"/>
<path d="M72.3 213.8 L73.5 216.2 L74.9 217.5 L76.4 218.4 L77.8 219.1 L79.2 219.5 L80.5 219.7 L81.6 219.7 L82.6 219.6 L83.5 219.2 L84.3 218.7 L85 218.1 L85.6 217.3 L86.2 216.3 L87 215.2 L87.9 213.9 L89.4 211.8 M72.3 213.8 L73.3 211.5 L74.1 210 L74.8 208.8 L75.5 207.8 L76.3 207 L77.1 206.3 L78.1 205.7 L79.2 205.4 L80.4 205.2 L81.8 205.2 L83.2 205.5 L84.7 206 L86.2 206.8 L87.5 207.8 L88.7 209.3 L89.4 211.8" fill="none" stroke="#151515" stroke-width="2.1" stroke-linecap="round"/>
<path d="M89.4 211.8 L89.8 214 L90.2 215.6 L90.7 216.9 L91.2 218.1 L91.7 219.3 L92.4 220.3 L93.2 221.2 L94.2 221.9 L95.3 222.5 L96.6 223 L98 223.4 L99.5 223.5 L101.1 223.5 L102.8 223.2 L104.6 222.7 L106.5 221.3 M89.4 211.8 L91.2 210.1 L92.9 209.4 L94.6 208.9 L96.3 208.8 L97.9 208.9 L99.4 209.2 L100.7 209.6 L102 210.3 L103 211.1 L103.9 212 L104.6 213.2 L105.2 214.4 L105.7 215.7 L106.1 217.2 L106.4 218.9 L106.5 221.3" fill="none" stroke="#151515" stroke-width="2.1" stroke-linecap="round"/>
<path d="M106.5 221.3 L106.8 223.5 L107.5 225 L108.3 226.2 L109.2 227.2 L110.2 228.1 L111.2 228.7 L112.1 229.1 L113.1 229.4 L114.1 229.5 L115 229.4 L116 229.3 L117 229 L117.9 228.6 L119 228.1 L120.1 227.6 L121.6 226.6 M106.5 221.3 L108.2 220 L109.6 219.3 L110.8 218.8 L111.9 218.4 L113 218.3 L114.1 218.2 L115.1 218.4 L116.1 218.7 L117.1 219.1 L118.1 219.7 L119 220.4 L119.8 221.3 L120.5 222.3 L121.2 223.5 L121.6 224.8 L121.6 226.6" fill="none" stroke="#151515" stroke-width="1.9" stroke-linecap="round"/>
<path d="M121.6 226.6 L121.8 227.7 L122 228.6 L122.1 229.4 L122.2 230.1 L122.4 230.7 L122.6 231.4 L122.9 232 L123.3 232.5 L123.8 233.1 L124.3 233.6 L125 234.1 L125.8 234.5 L126.6 234.8 L127.5 235.1 L128.4 235.1 L129.5 235 M121.6 226.6 L122.8 226.4 L123.9 226.4 L124.8 226.7 L125.7 227 L126.5 227.4 L127.2 227.9 L127.8 228.5 L128.2 229 L128.6 229.6 L128.8 230.3 L129 230.9 L129.1 231.6 L129.2 232.3 L129.3 233.1 L129.4 233.9 L129.5 235" fill="none" stroke="#151515" stroke-width="1.4" stroke-linecap="round"/>
<path d="M129.5 235 L129.7 236.2 L130.1 237.3 L130.6 238.3 L131.2 239.2 L131.9 239.9 L132.6 240.5 L133.3 241 L134 241.4 L134.8 241.6 L135.5 241.7 L136.3 241.6 L137.1 241.5 L138 241.3 L138.9 241.1 L140 240.9 L141.2 240.6 M129.5 235 L130.6 234.6 L131.5 234.3 L132.4 234 L133.3 233.8 L134.2 233.6 L135 233.6 L135.9 233.6 L136.7 233.9 L137.6 234.2 L138.4 234.7 L139.1 235.4 L139.8 236.2 L140.4 237.2 L140.9 238.2 L141.2 239.3 L141.2 240.6" fill="none" stroke="#151515" stroke-width="1.5" stroke-linecap="round"/>
<path d="M141.2 240.6 L141 241.9 L140.9 242.9 L140.9 243.9 L140.8 244.9 L140.8 245.8 L141 246.6 L141.2 247.4 L141.5 248.1 L142 248.8 L142.6 249.5 L143.4 250.1 L144.2 250.6 L145.2 251.1 L146.2 251.5 L147.3 251.8 L148.6 252 M141.2 240.6 L142.5 240.5 L143.7 240.6 L144.9 240.9 L146 241.3 L146.9 241.8 L147.8 242.4 L148.5 243.1 L149 243.9 L149.4 244.8 L149.7 245.7 L149.8 246.6 L149.7 247.6 L149.6 248.6 L149.4 249.7 L149.1 250.8 L148.6 252" fill="none" stroke="#151515" stroke-width="1.5" stroke-linecap="round"/>
<path d="M148.6 252 L148.1 253.2 L147.8 254.3 L147.7 255.3 L147.6 256.2 L147.6 257 L147.8 257.8 L148 258.5 L148.3 259.1 L148.7 259.6 L149.3 260.1 L149.9 260.5 L150.6 260.9 L151.4 261.2 L152.2 261.5 L153.2 261.8 L154.3 262 M148.6 252 L149.9 252.1 L151 252.4 L151.9 252.7 L152.8 253.1 L153.5 253.5 L154.1 254 L154.7 254.5 L155.1 255.2 L155.3 255.9 L155.5 256.6 L155.6 257.4 L155.5 258.2 L155.4 259.1 L155.2 260 L154.8 261 L154.3 262" fill="none" stroke="#151515" stroke-width="1.4" stroke-linecap="round"/>
<path d="M154.3 262 L153.8 263 L153.4 263.9 L153.1 264.7 L152.9 265.4 L152.8 266.1 L152.8 266.8 L152.9 267.4 L153 268 L153.3 268.5 L153.7 269.1 L154.2 269.5 L154.7 270 L155.4 270.4 L156.1 270.8 L157 271.2 L158 271.5 M154.3 262 L155.4 262.2 L156.3 262.6 L157.1 263 L157.8 263.4 L158.5 263.9 L158.9 264.4 L159.3 265 L159.6 265.6 L159.8 266.2 L159.8 266.9 L159.8 267.6 L159.6 268.3 L159.4 269 L159 269.8 L158.6 270.6 L158 271.5" fill="none" stroke="#151515" stroke-width="1.3" stroke-linecap="round"/>
<path d="M158 271.5 L157.4 272.4 L157.1 273.1 L156.8 273.9 L156.5 274.6 L156.4 275.3 L156.3 276 L156.4 276.6 L156.5 277.2 L156.8 277.8 L157.1 278.3 L157.5 278.9 L158 279.3 L158.6 279.8 L159.3 280.2 L160.1 280.6 L161 281 M158 271.5 L159 271.8 L159.8 272.2 L160.5 272.7 L161.1 273.1 L161.6 273.6 L162.1 274.2 L162.4 274.7 L162.6 275.3 L162.8 276 L162.8 276.6 L162.7 277.3 L162.6 278 L162.3 278.7 L162 279.4 L161.6 280.2 L161 281" fill="none" stroke="#151515" stroke-width="1.3" stroke-linecap="round"/>
<path d="M161 281 L160.4 281.8 L160 282.5 L159.7 283.2 L159.4 283.9 L159.2 284.6 L159.1 285.2 L159.2 285.8 L159.3 286.3 L159.5 286.9 L159.8 287.4 L160.2 287.9 L160.6 288.4 L161.2 288.8 L161.9 289.3 L162.6 289.7 L163.5 290 M161 281 L161.9 281.4 L162.7 281.8 L163.3 282.2 L163.9 282.7 L164.4 283.1 L164.8 283.7 L165.1 284.2 L165.3 284.7 L165.4 285.3 L165.4 285.9 L165.3 286.5 L165.1 287.1 L164.8 287.8 L164.5 288.5 L164.1 289.2 L163.5 290" fill="none" stroke="#151515" stroke-width="1.2" stroke-linecap="round"/>
<path d="M163.5 290 L163 290.8 L162.6 291.5 L162.3 292.2 L162 292.9 L161.9 293.6 L161.9 294.2 L161.9 294.8 L162 295.4 L162.3 296 L162.6 296.5 L163 297 L163.5 297.5 L164.1 297.9 L164.7 298.3 L165.4 298.7 L166.3 299 M163.5 290 L164.4 290.3 L165.1 290.7 L165.7 291.2 L166.3 291.6 L166.8 292.1 L167.2 292.6 L167.5 293.1 L167.7 293.6 L167.9 294.2 L167.9 294.8 L167.9 295.5 L167.7 296.1 L167.5 296.8 L167.2 297.5 L166.8 298.2 L166.3 299" fill="none" stroke="#151515" stroke-width="1.2" stroke-linecap="round"/>
<path d="M166.3 299 L165.8 299.8 L165.4 300.5 L165.1 301.2 L164.9 301.8 L164.8 302.5 L164.8 303.1 L164.8 303.6 L164.9 304.2 L165.2 304.7 L165.5 305.2 L165.9 305.6 L166.3 306 L166.9 306.4 L167.5 306.8 L168.2 307.2 L169 307.5 M166.3 299 L167.2 299.3 L167.9 299.7 L168.5 300.1 L169.1 300.5 L169.5 300.9 L169.9 301.4 L170.2 301.9 L170.5 302.4 L170.6 302.9 L170.6 303.5 L170.6 304.1 L170.4 304.8 L170.2 305.4 L169.9 306.1 L169.5 306.8 L169 307.5" fill="none" stroke="#151515" stroke-width="1.2" stroke-linecap="round"/>
<path d="M169 307.5 L168.5 308.2 L168.1 308.9 L167.8 309.5 L167.5 310.1 L167.3 310.7 L167.2 311.3 L167.2 311.8 L167.3 312.4 L167.5 312.9 L167.7 313.4 L168.1 313.9 L168.5 314.3 L169 314.8 L169.5 315.2 L170.2 315.6 L171 316 M169 307.5 L169.8 307.9 L170.5 308.3 L171.1 308.7 L171.6 309.1 L172 309.6 L172.4 310.1 L172.6 310.6 L172.8 311.1 L172.8 311.7 L172.8 312.2 L172.7 312.8 L172.5 313.4 L172.3 314 L172 314.7 L171.6 315.3 L171 316" fill="none" stroke="#151515" stroke-width="1.15" stroke-linecap="round"/>
<path d="M171 316 L170.4 316.7 L170 317.3 L169.7 318 L169.4 318.6 L169.3 319.2 L169.2 319.8 L169.2 320.4 L169.2 320.9 L169.4 321.4 L169.7 321.9 L170 322.4 L170.5 322.9 L171 323.3 L171.5 323.8 L172.2 324.2 L173 324.5 M171 316 L171.8 316.4 L172.5 316.8 L173 317.2 L173.5 317.7 L174 318.2 L174.3 318.6 L174.5 319.1 L174.7 319.7 L174.8 320.2 L174.8 320.8 L174.7 321.3 L174.5 321.9 L174.2 322.5 L173.9 323.2 L173.5 323.8 L173 324.5" fill="none" stroke="#151515" stroke-width="1.1" stroke-linecap="round"/>
<path d="M173 324.5 L172.5 325.2 L172.1 325.9 L171.8 326.5 L171.6 327.2 L171.5 327.8 L171.5 328.4 L171.5 328.9 L171.7 329.5 L171.9 329.9 L172.2 330.4 L172.6 330.8 L173.1 331.2 L173.6 331.6 L174.1 331.9 L174.8 332.2 L175.5 332.5 M173 324.5 L173.8 324.8 L174.5 325.2 L175 325.6 L175.6 326 L176 326.4 L176.4 326.8 L176.6 327.3 L176.8 327.8 L176.9 328.3 L176.9 328.9 L176.9 329.4 L176.7 330 L176.5 330.6 L176.3 331.2 L176 331.9 L175.5 332.5" fill="none" stroke="#151515" stroke-width="1.1" stroke-linecap="round"/>
<path d="M175.5 332.5 L175 333.1 L174.7 333.7 L174.4 334.2 L174.2 334.7 L174 335.2 L174 335.6 L174 336.1 L174.1 336.5 L174.2 336.9 L174.5 337.3 L174.8 337.7 L175.2 338.1 L175.7 338.4 L176.2 338.6 L176.8 338.9 L177.5 339 M175.5 332.5 L176.3 332.8 L176.9 333.1 L177.4 333.4 L177.8 333.8 L178.1 334.2 L178.4 334.5 L178.6 334.9 L178.7 335.3 L178.8 335.7 L178.7 336.1 L178.6 336.5 L178.5 336.9 L178.3 337.4 L178.1 337.9 L177.8 338.4 L177.5 339" fill="none" stroke="#151515" stroke-width="0.85" stroke-linecap="round"/>
<path d="M177.5 339 L177.1 339.6 L176.9 340.2 L176.8 340.8 L176.8 341.4 L176.8 341.9 L176.9 342.4 L177.1 342.8 L177.3 343.2 L177.6 343.5 L178 343.8 L178.4 344 L178.9 344.2 L179.4 344.3 L180 344.4 L180.6 344.4 L181.3 344.4 M177.5 339 L178.2 339.1 L178.7 339.2 L179.3 339.3 L179.7 339.5 L180.1 339.7 L180.5 339.9 L180.8 340.1 L181.1 340.4 L181.3 340.7 L181.4 341.1 L181.5 341.5 L181.6 342 L181.6 342.5 L181.5 343.1 L181.4 343.7 L181.3 344.4" fill="none" stroke="#151515" stroke-width="0.828125" stroke-linecap="round"/>
<path d="M181.3 344.4 L181.1 345.1 L181 345.7 L181 346.2 L181.1 346.8 L181.2 347.2 L181.3 347.7 L181.6 348 L181.8 348.4 L182.2 348.6 L182.5 348.9 L183 349 L183.4 349.1 L184 349.2 L184.5 349.2 L185.1 349.1 L185.8 348.9 M181.3 344.4 L182 344.3 L182.6 344.3 L183.1 344.4 L183.6 344.4 L184 344.5 L184.4 344.7 L184.8 344.9 L185.1 345.1 L185.3 345.4 L185.5 345.8 L185.6 346.2 L185.7 346.6 L185.8 347.1 L185.9 347.7 L185.8 348.3 L185.8 348.9" fill="none" stroke="#151515" stroke-width="0.80625" stroke-linecap="round"/>
<path d="M185.8 348.9 L185.7 349.6 L185.7 350.2 L185.8 350.8 L185.9 351.3 L186.1 351.7 L186.3 352.1 L186.5 352.4 L186.8 352.7 L187.2 352.9 L187.6 353.1 L188 353.2 L188.5 353.2 L189 353.2 L189.5 353.1 L190.1 353 L190.7 352.8 M185.8 348.9 L186.4 348.8 L187 348.7 L187.5 348.7 L188 348.7 L188.5 348.7 L188.9 348.8 L189.2 349 L189.5 349.2 L189.8 349.4 L190 349.8 L190.2 350.1 L190.4 350.6 L190.5 351 L190.6 351.5 L190.7 352.1 L190.7 352.8" fill="none" stroke="#151515" stroke-width="0.784375" stroke-linecap="round"/>
<path d="M190.7 352.8 L190.7 353.5 L190.8 354 L190.9 354.5 L191 355 L191.2 355.4 L191.5 355.8 L191.8 356.1 L192.1 356.3 L192.4 356.5 L192.8 356.6 L193.2 356.7 L193.7 356.7 L194.2 356.6 L194.7 356.5 L195.2 356.3 L195.8 356 M190.7 352.8 L191.3 352.6 L191.9 352.4 L192.4 352.3 L192.8 352.3 L193.3 352.3 L193.7 352.4 L194.1 352.5 L194.4 352.7 L194.7 352.9 L194.9 353.2 L195.1 353.5 L195.3 353.9 L195.5 354.3 L195.6 354.8 L195.7 355.4 L195.8 356" fill="none" stroke="#151515" stroke-width="0.7625" stroke-linecap="round"/>
<path d="M195.8 356 L195.9 356.7 L196 357.2 L196.2 357.7 L196.4 358.1 L196.7 358.5 L196.9 358.8 L197.2 359.1 L197.6 359.3 L197.9 359.4 L198.3 359.5 L198.7 359.5 L199.2 359.4 L199.6 359.3 L200.1 359.1 L200.6 358.9 L201.1 358.5 M195.8 356 L196.4 355.7 L196.9 355.5 L197.4 355.4 L197.8 355.3 L198.3 355.3 L198.6 355.3 L199 355.3 L199.3 355.5 L199.6 355.6 L199.9 355.9 L200.2 356.2 L200.4 356.5 L200.6 357 L200.8 357.4 L201 357.9 L201.1 358.5" fill="none" stroke="#151515" stroke-width="0.740625" stroke-linecap="round"/>
<path d="M201.1 358.5 L201.3 359.2 L201.5 359.7 L201.7 360.1 L202 360.5 L202.2 360.8 L202.5 361.1 L202.9 361.3 L203.2 361.5 L203.6 361.5 L203.9 361.6 L204.3 361.5 L204.7 361.4 L205.2 361.2 L205.6 361 L206.1 360.8 L206.5 360.4 M201.1 358.5 L201.7 358.2 L202.1 357.9 L202.6 357.8 L203 357.6 L203.4 357.5 L203.8 357.5 L204.1 357.5 L204.5 357.6 L204.8 357.7 L205.1 357.9 L205.4 358.2 L205.6 358.5 L205.9 358.9 L206.1 359.3 L206.4 359.8 L206.5 360.4" fill="none" stroke="#151515" stroke-width="0.71875" stroke-linecap="round"/>
<path d="M206.5 360.4 L206.7 361 L207 361.4 L207.2 361.9 L207.5 362.2 L207.8 362.5 L208.1 362.8 L208.4 363 L208.7 363.1 L209.1 363.2 L209.4 363.1 L209.8 363.1 L210.2 363 L210.6 362.8 L211 362.5 L211.5 362.3 L211.9 361.9 M206.5 360.4 L207 360 L207.5 359.7 L207.9 359.5 L208.3 359.4 L208.7 359.3 L209.1 359.2 L209.4 359.2 L209.8 359.3 L210.1 359.4 L210.4 359.6 L210.7 359.8 L210.9 360.1 L211.2 360.5 L211.4 360.9 L211.7 361.3 L211.9 361.9" fill="none" stroke="#151515" stroke-width="0.696875" stroke-linecap="round"/>
<path d="M211.9 361.9 L212.1 362.4 L212.4 362.9 L212.7 363.2 L213 363.6 L213.3 363.8 L213.6 364.1 L213.9 364.2 L214.2 364.3 L214.6 364.3 L214.9 364.3 L215.3 364.2 L215.7 364.1 L216.1 363.9 L216.4 363.6 L216.8 363.3 L217.2 362.9 M211.9 361.9 L212.4 361.5 L212.8 361.2 L213.2 360.9 L213.5 360.7 L213.9 360.6 L214.3 360.5 L214.6 360.5 L214.9 360.5 L215.2 360.6 L215.6 360.8 L215.8 361 L216.1 361.2 L216.4 361.6 L216.7 361.9 L217 362.3 L217.2 362.9" fill="none" stroke="#151515" stroke-width="0.675" stroke-linecap="round"/>
<path d="M217.2 362.9 L217.5 363.4 L217.8 363.8 L218.1 364.1 L218.4 364.4 L218.7 364.7 L219 364.9 L219.3 365 L219.7 365 L220 365 L220.3 365 L220.7 364.9 L221 364.7 L221.4 364.5 L221.7 364.2 L222.1 363.8 L222.5 363.4 M217.2 362.9 L217.6 362.4 L218 362.1 L218.4 361.9 L218.7 361.7 L219.1 361.5 L219.4 361.4 L219.7 361.3 L220 361.3 L220.4 361.4 L220.7 361.5 L221 361.7 L221.3 361.9 L221.6 362.2 L221.9 362.6 L222.2 362.9 L222.5 363.4" fill="none" stroke="#151515" stroke-width="0.653125" stroke-linecap="round"/>
<path d="M222.5 363.4 L222.7 363.9 L223.1 364.3 L223.4 364.6 L223.7 364.8 L224 365 L224.3 365.2 L224.7 365.3 L225 365.3 L225.3 365.3 L225.6 365.2 L226 365.1 L226.3 364.9 L226.6 364.6 L226.9 364.3 L227.2 364 L227.6 363.5 M222.5 363.4 L222.8 363 L223.1 362.6 L223.5 362.4 L223.8 362.1 L224.1 361.9 L224.4 361.8 L224.7 361.7 L225.1 361.7 L225.4 361.8 L225.7 361.8 L226 362 L226.3 362.2 L226.6 362.4 L226.9 362.7 L227.2 363.1 L227.6 363.5" fill="none" stroke="#151515" stroke-width="0.63125" stroke-linecap="round"/>
<path d="M227.6 363.5 L227.9 364 L228.2 364.3 L228.5 364.6 L228.9 364.8 L229.2 365 L229.5 365.1 L229.8 365.2 L230.2 365.2 L230.5 365.1 L230.8 365 L231.1 364.8 L231.4 364.6 L231.7 364.4 L232 364 L232.2 363.7 L232.5 363.2 M227.6 363.5 L227.9 363.1 L228.2 362.7 L228.5 362.4 L228.8 362.2 L229 362 L229.3 361.8 L229.6 361.7 L229.9 361.7 L230.2 361.7 L230.6 361.8 L230.9 361.9 L231.2 362 L231.5 362.3 L231.8 362.5 L232.2 362.8 L232.5 363.2" fill="none" stroke="#151515" stroke-width="0.609375" stroke-linecap="round"/>
<path d="M232.5 363.2 L232.9 363.6 L233.2 363.9 L233.5 364.1 L233.9 364.3 L234.2 364.5 L234.5 364.6 L234.9 364.6 L235.2 364.6 L235.5 364.5 L235.8 364.4 L236.1 364.2 L236.3 364 L236.6 363.7 L236.8 363.3 L237.1 363 L237.3 362.5 M232.5 363.2 L232.8 362.8 L233 362.4 L233.3 362.1 L233.6 361.8 L233.8 361.6 L234.1 361.4 L234.4 361.3 L234.7 361.3 L235 361.3 L235.3 361.3 L235.6 361.4 L235.9 361.5 L236.2 361.7 L236.5 361.9 L236.9 362.2 L237.3 362.5" fill="none" stroke="#151515" stroke-width="0.5875" stroke-linecap="round"/>
<path d="M237.3 362.5 L237.7 362.8 L238 363 L238.4 363.2 L238.8 363.4 L239.1 363.4 L239.4 363.5 L239.8 363.5 L240.1 363.4 L240.3 363.3 L240.6 363.1 L240.8 362.8 L241.1 362.6 L241.3 362.3 L241.4 361.9 L241.6 361.5 L241.7 361 M237.3 362.5 L237.5 362 L237.7 361.6 L237.9 361.3 L238.1 361 L238.3 360.8 L238.5 360.6 L238.8 360.4 L239 360.3 L239.3 360.2 L239.6 360.2 L239.9 360.3 L240.2 360.3 L240.5 360.4 L240.9 360.6 L241.3 360.8 L241.7 361" fill="none" stroke="#151515" stroke-width="0.565625" stroke-linecap="round"/>
<path d="M241.7 361 L242.1 361.3 L242.5 361.4 L242.9 361.5 L243.3 361.6 L243.6 361.6 L243.9 361.6 L244.2 361.5 L244.5 361.4 L244.8 361.3 L245 361 L245.2 360.8 L245.4 360.5 L245.5 360.1 L245.6 359.8 L245.7 359.4 L245.7 358.9 M241.7 361 L241.8 360.5 L241.9 360.2 L242.1 359.8 L242.2 359.5 L242.4 359.2 L242.6 359 L242.8 358.8 L243 358.7 L243.3 358.6 L243.6 358.5 L243.9 358.5 L244.2 358.5 L244.5 358.5 L244.9 358.6 L245.3 358.7 L245.7 358.9" fill="none" stroke="#151515" stroke-width="0.54375" stroke-linecap="round"/>
<path d="M245.7 358.9 L246.2 359.1 L246.6 359.2 L247 359.2 L247.3 359.2 L247.7 359.2 L248 359.1 L248.3 359 L248.5 358.8 L248.7 358.6 L248.9 358.3 L249.1 358 L249.2 357.7 L249.2 357.4 L249.3 357 L249.3 356.6 L249.2 356.2 M245.7 358.9 L245.8 358.4 L245.8 358 L245.9 357.7 L246 357.3 L246.1 357 L246.3 356.8 L246.5 356.6 L246.7 356.4 L246.9 356.3 L247.2 356.2 L247.5 356.1 L247.8 356.1 L248.1 356.1 L248.4 356.1 L248.8 356.1 L249.2 356.2" fill="none" stroke="#151515" stroke-width="0.521875" stroke-linecap="round"/>
<path d="M249.2 356.2 L249.7 356.3 L250.1 356.3 L250.5 356.3 L250.8 356.2 L251.1 356.1 L251.4 356 L251.6 355.8 L251.7 355.6 L251.8 355.3 L251.8 355 L251.8 354.8 L251.8 354.5 L251.7 354.2 L251.7 354 L251.6 353.7 L251.5 353.5 M249.2 356.2 L249.1 355.8 L249.1 355.4 L249 355 L249 354.7 L249.1 354.4 L249.2 354.2 L249.3 354 L249.5 353.8 L249.7 353.7 L249.9 353.6 L250.2 353.5 L250.5 353.5 L250.7 353.5 L251 353.4 L251.3 353.5 L251.5 353.5" fill="none" stroke="#151515" stroke-width="0.5" stroke-linecap="round"/>
<path d="M123.2 226.6 L127.4 219.4 L135.8 219.4 L140 226.6 L135.8 233.8 L127.4 233.8Z" fill="#6a3d9a"/>
<text x="125.2" y="229.9" font-size="9" font-weight="bold" fill="#fff">Me</text>
<path d="M125.2 246.2 L129.2 239.3 L137.4 239.3 L141.4 246.2 L137.4 253.1 L129.2 253.1Z" fill="#6a3d9a"/>
<text x="126.9" y="249.5" font-size="9" font-weight="bold" fill="#fff">Me</text>
<path d="M150.5 290 L150.9 289.9 L151.5 289.8 L152.1 289.7 L152.8 289.5 L153.5 289.3 L154 289 L154.4 288.6 L154.7 288.1 L155 287.6 L155.3 287.1 L155.6 286.7 L156 286.5 L156.4 286.5 L156.9 286.8 L157.4 287.2 L158 287.5 L158.5 287.8 L159 288 L159.5 287.9 L160 287.7 L160.6 287.4 L161.1 287.1 L161.6 287 L162 287 L162.4 287.3 L162.7 287.7 L163 288.3 L163.3 288.9 L163.6 289.5 L164 290 L164.4 290.4 L164.9 290.7 L165.4 290.9 L165.9 291.2 L166.3 291.6 L166.5 292 L166.5 292.6 L166.3 293.2 L166 293.9 L165.7 294.6 L165.5 295.3 L165.5 296 L165.7 296.7 L166.1 297.3 L166.5 298 L167 298.7 L167.3 299.3 L167.5 300 L167.4 300.7 L167.1 301.3 L166.8 302 L166.4 302.7 L166.1 303.3 L166 304 L166.2 304.7 L166.6 305.4 L167.1 306.1 L167.6 306.7 L167.9 307.4 L168 308 L167.8 308.6 L167.4 309.1 L166.9 309.6 L166.3 310.1 L165.6 310.6 L165 311 L164.4 311.4 L163.7 311.9 L163.1 312.3 L162.4 312.6 L161.7 312.9 L161 313 L160.3 312.9 L159.7 312.7 L159 312.3 L158.3 311.9 L157.7 311.6 L157 311.5 L156.3 311.6 L155.6 311.8 L154.9 312.1 L154.2 312.4 L153.6 312.6 L153 312.5 L152.5 312.2 L152.1 311.7 L151.7 311.1 L151.4 310.4 L151.1 309.7 L151 309 L151 308.4 L151.2 307.7 L151.5 307 L151.8 306.4 L152 305.7 L152 305 L151.7 304.3 L151.3 303.7 L150.8 303 L150.2 302.3 L149.8 301.7 L149.5 301 L149.5 300.3 L149.7 299.6 L150 298.9 L150.3 298.3 L150.5 297.6 L150.5 297 L150.3 296.5 L149.9 296 L149.4 295.5 L149 295 L148.6 294.5 L148.5 294 L148.6 293.3 L148.9 292.6 L149.4 291.8 L149.8 291.1 L150.2 290.4 L150.5 290Z" fill="#999999"/>
<path d="M166 285 L166.3 284.7 L166.8 284.4 L167.3 283.9 L167.9 283.5 L168.5 283.2 L169 283 L169.5 283.1 L170 283.3 L170.5 283.6 L171 283.9 L171.5 284.2 L172 284.5 L172.6 284.7 L173.2 284.8 L173.9 284.9 L174.5 285 L175.1 285.2 L175.5 285.5 L175.8 285.9 L175.9 286.5 L176 287.1 L176.1 287.7 L176 288.4 L176 289 L176 289.6 L175.9 290.3 L175.8 290.9 L175.6 291.5 L175.4 292.1 L175 292.5 L174.5 292.8 L173.9 293.1 L173.2 293.3 L172.4 293.4 L171.7 293.5 L171 293.5 L170.4 293.5 L169.7 293.4 L169.1 293.3 L168.5 293.1 L168 292.8 L167.5 292.5 L167.1 292.1 L166.6 291.5 L166.2 290.9 L165.9 290.3 L165.7 289.6 L165.5 289 L165.4 288.3 L165.5 287.6 L165.6 286.8 L165.8 286.1 L165.9 285.4 L166 285Z" fill="#999999"/>
<path d="M171 294 L171.3 293.7 L171.8 293.2 L172.3 292.7 L172.9 292.2 L173.4 291.8 L174 291.5 L174.6 291.4 L175.1 291.5 L175.7 291.7 L176.3 291.9 L176.9 292 L177.5 292 L178.1 291.8 L178.7 291.5 L179.3 291.1 L179.9 290.8 L180.4 290.5 L181 290.5 L181.5 290.7 L182.1 291 L182.6 291.4 L183.1 291.9 L183.6 292.5 L184 293 L184.4 293.6 L184.9 294.3 L185.3 295 L185.6 295.7 L185.9 296.4 L186 297 L185.9 297.5 L185.6 298 L185.2 298.5 L184.9 299 L184.6 299.5 L184.5 300 L184.7 300.6 L185.1 301.3 L185.6 302 L186.1 302.7 L186.4 303.4 L186.5 304 L186.2 304.6 L185.7 305.1 L185.1 305.6 L184.3 306 L183.6 306.5 L183 307 L182.5 307.6 L182 308.2 L181.5 308.8 L181 309.4 L180.5 309.8 L180 310 L179.4 309.9 L178.9 309.6 L178.3 309.1 L177.7 308.6 L177.1 308.2 L176.5 308 L175.9 308.1 L175.3 308.3 L174.7 308.6 L174.1 308.9 L173.5 309.1 L173 309 L172.5 308.6 L172.1 308 L171.7 307.3 L171.4 306.5 L171.1 305.7 L171 305 L171.1 304.3 L171.4 303.6 L171.8 302.9 L172.2 302.3 L172.4 301.6 L172.5 301 L172.3 300.5 L171.8 300 L171.3 299.5 L170.7 299 L170.3 298.5 L170 298 L170 297.3 L170.1 296.6 L170.3 295.8 L170.6 295.1 L170.9 294.4 L171 294Z" fill="#999999"/>
<text transform="translate(154.5,292.5) rotate(68)" font-size="8" font-weight="bold" fill="#eeeeee">Pol II</text>
<path d="M180.8 232.3 L181 233.1 L181.3 234.1 L181.6 235.4 L182 236.8 L182.3 238.3 L182.6 239.8 L182.8 241.4 L182.8 243 L182.7 244.6 L182.4 246.3 L182.1 248.1 L181.7 249.9 L181.3 251.8 L180.8 253.6 L180.4 255.3 L180 257 L179.6 258.6 L179.2 260.1 L178.8 261.6 L178.4 263.1 L178 264.6 L177.6 266 L177.3 267.5 L177 269 L176.8 270.5 L176.5 272.1 L176.3 273.6 L176.2 275.2 L176 276.7 L175.9 278.2 L175.9 279.6 L175.8 281 L175.8 282.3 L175.9 283.5 L176.1 284.7 L176.2 285.8 L176.4 286.9 L176.4 288 L176.4 289 L176.3 290 L176 291 L175.6 292 L175 292.9 L174.4 293.8 L173.8 294.6 L173.3 295.4 L172.8 296 L172.5 296.5" fill="none" stroke="#6a3fb0" stroke-width="1.4"/>
<circle cx="174.9" cy="237.3" r="0.8" fill="#e8262b"/><circle cx="179.1" cy="237.3" r="0.8" fill="#e8262b"/>
<circle cx="174.9" cy="245.8" r="0.8" fill="#e8262b"/><circle cx="179.1" cy="245.8" r="0.8" fill="#e8262b"/>
<circle cx="172" cy="254.4" r="0.8" fill="#2fa7e0"/><circle cx="175.6" cy="254.4" r="0.8" fill="#2fa7e0"/>
<circle cx="169.3" cy="261.8" r="0.8" fill="#f5a623"/><circle cx="172.9" cy="261.8" r="0.8" fill="#f5a623"/>
<circle cx="168.7" cy="272.2" r="0.8" fill="#2fa7e0"/><circle cx="172.9" cy="272.2" r="0.8" fill="#2fa7e0"/>
<circle cx="170.4" cy="282.2" r="0.8" fill="#e8262b"/><circle cx="174.1" cy="282.2" r="0.8" fill="#e8262b"/>
<path d="M253.5,350 L262,337 M270,325 L277,313 M290,293 L296,287 M314,277 L321,276 M340,281 L345,287 M350,307 L349,314 M340,330 L329,337 M315,350 Q314,357 318,362" fill="none" stroke="#111" stroke-width="1.7"/>
<g transform="translate(255,349.5) rotate(0)">
<circle r="5.3" fill="url(#bead)" stroke="#a2a2e0" stroke-width="1.1"/>
<path d="M-5.7 -0.3 Q-0.2 -0.1 3.2 -4.8" fill="none" stroke="#111" stroke-width="1"/>
<path d="M-3.6 4.4 Q2.1 3.8 5.6 -0.7" fill="none" stroke="#111" stroke-width="1"/>
</g>
<g transform="translate(268.3,329.2) rotate(0)">
<circle r="5.9" fill="url(#bead)" stroke="#a2a2e0" stroke-width="1.1"/>
<path d="M-6.3 -0.3 Q-0.2 -0.1 3.5 -5.2" fill="none" stroke="#111" stroke-width="1"/>
<path d="M-4 4.9 Q2.4 4.2 6.2 -0.8" fill="none" stroke="#111" stroke-width="1"/>
</g>
<g transform="translate(282.8,303.2) rotate(0)">
<circle r="10.7" fill="url(#bead)" stroke="#a2a2e0" stroke-width="1.1"/>
<path d="M-11.1 -0.6 Q-0.3 -0.2 6.2 -9.2" fill="none" stroke="#111" stroke-width="1.8"/>
<path d="M-6.9 8.5 Q4.1 7.4 10.9 -1.3" fill="none" stroke="#111" stroke-width="1.8"/>
</g>
<g transform="translate(303.9,279.5) rotate(0)">
<circle r="10.8" fill="url(#bead)" stroke="#a2a2e0" stroke-width="1.1"/>
<path d="M-11.2 -0.6 Q-0.3 -0.2 6.2 -9.3" fill="none" stroke="#111" stroke-width="1.8"/>
<path d="M-7 8.6 Q4.2 7.5 11 -1.4" fill="none" stroke="#111" stroke-width="1.8"/>
</g>
<g transform="translate(330.8,277.4) rotate(0)">
<circle r="10.7" fill="url(#bead)" stroke="#a2a2e0" stroke-width="1.1"/>
<path d="M-11.1 -0.6 Q-0.3 -0.2 6.2 -9.2" fill="none" stroke="#111" stroke-width="1.8"/>
<path d="M-6.9 8.5 Q4.1 7.4 10.9 -1.3" fill="none" stroke="#111" stroke-width="1.8"/>
</g>
<g transform="translate(348.8,297.4) rotate(0)">
<circle r="10.7" fill="url(#bead)" stroke="#a2a2e0" stroke-width="1.1"/>
<path d="M-11.1 -0.6 Q-0.3 -0.2 6.2 -9.2" fill="none" stroke="#111" stroke-width="1.8"/>
<path d="M-6.9 8.5 Q4.1 7.4 10.9 -1.3" fill="none" stroke="#111" stroke-width="1.8"/>
</g>
<g transform="translate(346,323.3) rotate(0)">
<circle r="9.3" fill="url(#bead)" stroke="#a2a2e0" stroke-width="1.1"/>
<path d="M-9.7 -0.5 Q-0.3 -0.2 5.4 -8" fill="none" stroke="#111" stroke-width="1.6"/>
<path d="M-6.1 7.4 Q3.6 6.5 9.5 -1.2" fill="none" stroke="#111" stroke-width="1.6"/>
</g>
<g transform="translate(321.2,342.2) rotate(0)">
<circle r="9.3" fill="url(#bead)" stroke="#a2a2e0" stroke-width="1.1"/>
<path d="M-9.7 -0.5 Q-0.3 -0.2 5.4 -8" fill="none" stroke="#111" stroke-width="1.6"/>
<path d="M-6.1 7.4 Q3.6 6.5 9.5 -1.2" fill="none" stroke="#111" stroke-width="1.6"/>
</g>
<path d="M350,378 Q362,384 373,384" fill="none" stroke="#111" stroke-width="1.8"/>
<path d="M400,385 Q412,384 425,380" fill="none" stroke="#111" stroke-width="1.8"/>
<path d="M321,392 C323,396 317,399 318.6,403 L318.6,405.5" fill="none" stroke="#555" stroke-width="0.9"/>
<path d="M336,392 C338,396 332,399 333.6,403 L333.6,405.5" fill="none" stroke="#555" stroke-width="0.9"/>
<circle cx="318.6" cy="407.4" r="2.2" fill="#ffe01a"/><circle cx="333.6" cy="407.4" r="2.2" fill="#ffe01a"/>
<g transform="translate(336.3,376) scale(1.0)"><ellipse cx="-14.5" cy="-6.5" rx="4.8" ry="8" fill="url(#lobe)" stroke="#8c8cd0" stroke-width="0.8"/><ellipse cx="-14.5" cy="8.5" rx="4.8" ry="8" fill="url(#lobe)" stroke="#8c8cd0" stroke-width="0.8"/><ellipse cx="-7.3" cy="-8" rx="6" ry="9" fill="url(#lobe)" stroke="#8c8cd0" stroke-width="0.8"/><ellipse cx="-7.3" cy="8.5" rx="6" ry="8.5" fill="url(#lobe)" stroke="#8c8cd0" stroke-width="0.8"/><path d="M-2.6,-17.1 C-17,-15 -16,13 -8.3,16.4" fill="none" stroke="#3a3a40" stroke-width="1.3"/><ellipse cx="0" cy="-9" rx="5" ry="8.5" fill="url(#lobe)" stroke="#8c8cd0" stroke-width="0.8"/><ellipse cx="0" cy="8" rx="5" ry="8" fill="url(#lobe)" stroke="#8c8cd0" stroke-width="0.8"/><ellipse cx="9.5" cy="-9" rx="8" ry="9" fill="url(#lobe)" stroke="#8c8cd0" stroke-width="0.8"/><ellipse cx="9.5" cy="7.5" rx="8" ry="8.5" fill="url(#lobe)" stroke="#8c8cd0" stroke-width="0.8"/><path d="M12.2,-17.1 C-2,-15 -1.5,13 4.8,16.4" fill="none" stroke="#3a3a40" stroke-width="1.3"/></g>
<g transform="translate(389,383.3) scale(0.86)"><ellipse cx="-14.5" cy="-6.5" rx="4.8" ry="8" fill="url(#lobe)" stroke="#8c8cd0" stroke-width="0.8"/><ellipse cx="-14.5" cy="8.5" rx="4.8" ry="8" fill="url(#lobe)" stroke="#8c8cd0" stroke-width="0.8"/><ellipse cx="-7.3" cy="-8" rx="6" ry="9" fill="url(#lobe)" stroke="#8c8cd0" stroke-width="0.8"/><ellipse cx="-7.3" cy="8.5" rx="6" ry="8.5" fill="url(#lobe)" stroke="#8c8cd0" stroke-width="0.8"/><path d="M-2.6,-17.1 C-17,-15 -16,13 -8.3,16.4" fill="none" stroke="#3a3a40" stroke-width="1.3"/><ellipse cx="0" cy="-9" rx="5" ry="8.5" fill="url(#lobe)" stroke="#8c8cd0" stroke-width="0.8"/><ellipse cx="0" cy="8" rx="5" ry="8" fill="url(#lobe)" stroke="#8c8cd0" stroke-width="0.8"/><ellipse cx="9.5" cy="-9" rx="8" ry="9" fill="url(#lobe)" stroke="#8c8cd0" stroke-width="0.8"/><ellipse cx="9.5" cy="7.5" rx="8" ry="8.5" fill="url(#lobe)" stroke="#8c8cd0" stroke-width="0.8"/><path d="M12.2,-17.1 C-2,-15 -1.5,13 4.8,16.4" fill="none" stroke="#3a3a40" stroke-width="1.3"/></g>
<g transform="translate(426.8,377.5) rotate(-12)"><ellipse cx="1.4" cy="-5.1" rx="3.5" ry="5.8" fill="url(#lobe)" stroke="#8c8cd0" stroke-width="0.8"/><ellipse cx="1.4" cy="5.6" rx="3.5" ry="5.8" fill="url(#lobe)" stroke="#8c8cd0" stroke-width="0.8"/><ellipse cx="4.1" cy="0" rx="3.5" ry="11.2" fill="none" stroke="#3c3c48" stroke-width="1.2"/><ellipse cx="6.9" cy="-5.1" rx="4.4" ry="6" fill="url(#lobe)" stroke="#8c8cd0" stroke-width="0.8"/><ellipse cx="6.9" cy="5.6" rx="4.4" ry="6" fill="url(#lobe)" stroke="#8c8cd0" stroke-width="0.8"/></g>
<g transform="translate(436,375) rotate(-12)"><ellipse cx="1.3" cy="-4.9" rx="3.2" ry="5.6" fill="url(#lobe)" stroke="#8c8cd0" stroke-width="0.8"/><ellipse cx="1.3" cy="5.4" rx="3.2" ry="5.6" fill="url(#lobe)" stroke="#8c8cd0" stroke-width="0.8"/><ellipse cx="3.8" cy="0" rx="3.2" ry="10.8" fill="none" stroke="#3c3c48" stroke-width="1.1"/><ellipse cx="6.4" cy="-4.9" rx="4.1" ry="5.8" fill="url(#lobe)" stroke="#8c8cd0" stroke-width="0.8"/><ellipse cx="6.4" cy="5.4" rx="4.1" ry="5.8" fill="url(#lobe)" stroke="#8c8cd0" stroke-width="0.8"/></g>
<g transform="translate(444.5,372.3) rotate(-12)"><ellipse cx="1.3" cy="-4.7" rx="3.3" ry="5.3" fill="url(#lobe)" stroke="#8c8cd0" stroke-width="0.8"/><ellipse cx="1.3" cy="5.1" rx="3.3" ry="5.3" fill="url(#lobe)" stroke="#8c8cd0" stroke-width="0.8"/><ellipse cx="3.9" cy="0" rx="3.3" ry="10.2" fill="none" stroke="#3c3c48" stroke-width="1.1"/><ellipse cx="6.5" cy="-4.7" rx="4.1" ry="5.5" fill="url(#lobe)" stroke="#8c8cd0" stroke-width="0.8"/><ellipse cx="6.5" cy="5.1" rx="4.1" ry="5.5" fill="url(#lobe)" stroke="#8c8cd0" stroke-width="0.8"/></g>
<g transform="translate(453.1,369.4) rotate(-12)"><ellipse cx="1.1" cy="-4.3" rx="2.8" ry="4.9" fill="url(#lobe)" stroke="#8c8cd0" stroke-width="0.8"/><ellipse cx="1.1" cy="4.7" rx="2.8" ry="4.9" fill="url(#lobe)" stroke="#8c8cd0" stroke-width="0.8"/><ellipse cx="3.3" cy="0" rx="2.8" ry="9.4" fill="none" stroke="#3c3c48" stroke-width="1.1"/><ellipse cx="5.5" cy="-4.3" rx="3.6" ry="5.1" fill="url(#lobe)" stroke="#8c8cd0" stroke-width="0.8"/><ellipse cx="5.5" cy="4.7" rx="3.6" ry="5.1" fill="url(#lobe)" stroke="#8c8cd0" stroke-width="0.8"/></g>
<g transform="translate(460.5,366.6) rotate(-12)"><ellipse cx="0.9" cy="-4" rx="2.4" ry="4.5" fill="url(#lobe)" stroke="#8c8cd0" stroke-width="0.8"/><ellipse cx="0.9" cy="4.4" rx="2.4" ry="4.5" fill="url(#lobe)" stroke="#8c8cd0" stroke-width="0.8"/><ellipse cx="2.8" cy="0" rx="2.4" ry="8.8" fill="none" stroke="#3c3c48" stroke-width="1"/><ellipse cx="4.7" cy="-4" rx="3" ry="4.7" fill="url(#lobe)" stroke="#8c8cd0" stroke-width="0.8"/><ellipse cx="4.7" cy="4.4" rx="3" ry="4.7" fill="url(#lobe)" stroke="#8c8cd0" stroke-width="0.8"/></g>
<g transform="translate(466.8,363.9) rotate(-12)"><ellipse cx="0.9" cy="-3.7" rx="2.2" ry="4.2" fill="url(#lobe)" stroke="#8c8cd0" stroke-width="0.8"/><ellipse cx="0.9" cy="4.1" rx="2.2" ry="4.2" fill="url(#lobe)" stroke="#8c8cd0" stroke-width="0.8"/><ellipse cx="2.6" cy="0" rx="2.2" ry="8.2" fill="none" stroke="#3c3c48" stroke-width="1"/><ellipse cx="4.3" cy="-3.7" rx="2.7" ry="4.4" fill="url(#lobe)" stroke="#8c8cd0" stroke-width="0.8"/><ellipse cx="4.3" cy="4.1" rx="2.7" ry="4.4" fill="url(#lobe)" stroke="#8c8cd0" stroke-width="0.8"/></g>
<g transform="translate(472.5,361.5) rotate(-12)"><ellipse cx="0.7" cy="-3.5" rx="1.7" ry="4" fill="url(#lobe)" stroke="#8c8cd0" stroke-width="0.8"/><ellipse cx="0.7" cy="3.8" rx="1.7" ry="4" fill="url(#lobe)" stroke="#8c8cd0" stroke-width="0.8"/><ellipse cx="2" cy="0" rx="1.7" ry="7.6" fill="none" stroke="#3c3c48" stroke-width="1"/><ellipse cx="3.4" cy="-3.5" rx="2.2" ry="4.1" fill="url(#lobe)" stroke="#8c8cd0" stroke-width="0.8"/><ellipse cx="3.4" cy="3.8" rx="2.2" ry="4.1" fill="url(#lobe)" stroke="#8c8cd0" stroke-width="0.8"/></g>
<g transform="translate(477,359.4) rotate(-12)"><ellipse cx="0.6" cy="-3.3" rx="1.6" ry="3.7" fill="url(#lobe)" stroke="#8c8cd0" stroke-width="0.8"/><ellipse cx="0.6" cy="3.5" rx="1.6" ry="3.7" fill="url(#lobe)" stroke="#8c8cd0" stroke-width="0.8"/><ellipse cx="1.9" cy="0" rx="1.6" ry="7.1" fill="none" stroke="#3c3c48" stroke-width="0.9"/><ellipse cx="3.2" cy="-3.3" rx="2" ry="3.8" fill="url(#lobe)" stroke="#8c8cd0" stroke-width="0.8"/><ellipse cx="3.2" cy="3.5" rx="2" ry="3.8" fill="url(#lobe)" stroke="#8c8cd0" stroke-width="0.8"/></g>
<g transform="translate(481,357.3) rotate(-12)"><ellipse cx="0.6" cy="-3.1" rx="1.6" ry="3.5" fill="url(#lobe)" stroke="#8c8cd0" stroke-width="0.8"/><ellipse cx="0.6" cy="3.4" rx="1.6" ry="3.5" fill="url(#lobe)" stroke="#8c8cd0" stroke-width="0.8"/><ellipse cx="1.9" cy="0" rx="1.6" ry="6.8" fill="none" stroke="#3c3c48" stroke-width="0.9"/><ellipse cx="3.2" cy="-3.1" rx="2" ry="3.6" fill="url(#lobe)" stroke="#8c8cd0" stroke-width="0.8"/><ellipse cx="3.2" cy="3.4" rx="2" ry="3.6" fill="url(#lobe)" stroke="#8c8cd0" stroke-width="0.8"/></g>
<g transform="translate(484.2,355.4) rotate(-12)"><ellipse cx="0.7" cy="-2.9" rx="1.7" ry="3.3" fill="url(#lobe)" stroke="#8c8cd0" stroke-width="0.8"/><ellipse cx="0.7" cy="3.2" rx="1.7" ry="3.3" fill="url(#lobe)" stroke="#8c8cd0" stroke-width="0.8"/><ellipse cx="2.1" cy="0" rx="1.7" ry="6.4" fill="none" stroke="#3c3c48" stroke-width="0.9"/><ellipse cx="3.4" cy="-2.9" rx="2.2" ry="3.5" fill="url(#lobe)" stroke="#8c8cd0" stroke-width="0.8"/><ellipse cx="3.4" cy="3.2" rx="2.2" ry="3.5" fill="url(#lobe)" stroke="#8c8cd0" stroke-width="0.8"/></g>
<path d="M488,352.5 C494,350 494,362 499.5,364 C505,365.5 507,360 507,354" fill="none" stroke="#111" stroke-width="1.9"/>
<path d="M503,342 C497,334 490,322 494,313 C498,305 510,305 514,312 C518,320 513,331 511,341" fill="none" stroke="#20245a" stroke-width="2.4"/>
<path d="M526,339 C521,331 521,320 527,316 C534,312 543,315 544,323 C545,331 538,336 534,340" fill="none" stroke="#4a50aa" stroke-width="2.4"/>
<path d="M527,360 C519,367 515,378 521,384 C528,390 543,388 546,380 C549,371 541,363 535,359" fill="none" stroke="#6b70c6" stroke-width="2.4"/>
<path d="M547.5,354.5 C556,357 572,354 590,350 C602,347 610,338 610.5,325 C611,313 605,300 602.5,290 C600.5,281 600.5,271 603.5,266 C606,262 610,263 612,267" fill="none" stroke="#9aa2f5" stroke-width="2.5"/>
<path d="M500.5,343 L510,341 L512,353 L503,355Z" fill="#dde27a"/>
<ellipse cx="508" cy="347.5" rx="4.3" ry="4" fill="#1f2a8a"/>
<ellipse cx="512" cy="342.6" rx="4" ry="3.8" fill="#a8dcc8" stroke="#4cb080" stroke-width="0.7"/>
<path d="M501,342 C502,337 514,337 515.5,341.5" fill="none" stroke="#f5a623" stroke-width="1.3"/>
<path d="M501,342 C502,345.5 514,345.5 515.5,341.5" fill="none" stroke="#f5a623" stroke-width="1.1"/>
<path d="M526,346 L534,346 L534,352 L526,352Z" fill="#dde27a"/>
<ellipse cx="528.5" cy="341" rx="6.8" ry="4.8" fill="#1f2a8a"/>
<path d="M520.5,339 C522,334.5 537,334.5 538.5,339 C537,343.5 522,343.5 520.5,339Z" fill="none" stroke="#f5a623" stroke-width="1.3"/>
<ellipse cx="529.5" cy="356.3" rx="5.8" ry="4.8" fill="#1f2a8a"/>
<ellipse cx="536.5" cy="355.8" rx="4.2" ry="4.2" fill="#a8dcc8" stroke="#4cb080" stroke-width="0.7"/>
<path d="M521,358.5 C522,354 538,354 539.5,358.5 C538,363 522,363 521,358.5Z" fill="none" stroke="#f5a623" stroke-width="1.3"/>
<path d="M626 263.4 L624.4 263.8 L622.5 263.7 L620.9 262.9 L619.9 262.1 L619.3 261 L619.2 259.7 L619.7 258.6 L620.4 258 L621.5 257.8 L622.8 258.1 L623.7 258.9 L624.4 260 L624.8 261.6 L624.6 263.1 L623.9 264.8 L622.8 266.1 L621.2 267.1 L619.5 267.5 L617.8 267.4 L616.6 267 L615.7 266.3 L615 265.6 L614.7 264.7 L614.7 263.7 L615 263 L615.6 262.5 L616.4 262.3 L617.1 262.4 L617.9 262.9 L618.2 263.5 L618.4 264.6 L618.1 265.6 L617.3 266.6 L616.2 267.2 L614.9 267.5 L613.3 267.4 L611.8 266.7 L610.6 265.7 L610 264.6 L609.6 263.3 L609.7 261.8 L610.2 260.6 L610.9 259.8 L612 259.1 L613.3 258.9 L614.2 259 L615.1 259.5 L615.6 260.3 L615.8 261.1 L615.5 261.9 L614.7 262.6 L613.5 262.8 L612.6 262.5 L611.7 261.9 L610.8 260.6 L610.3 259.1 L610.3 257.6 L610.9 256 L611.8 254.7 L613.3 253.6 L614.9 252.9 L616.4 252.8 L617.9 253.1 L619.1 253.9 L619.8 254.8 L620.2 255.7 L620.2 256.8 L619.8 257.6 L619.1 258.4 L618.3 258.8 L617 258.8 L615.9 258.4 L615.1 257.6 L614.8 256.8 L614.9 255.6 L615.4 254.8 L616.6 253.8 L618 253.5 L619.6 253.6 L621.1 254.1 L622.8 255.2 L623.9 256.4 L624.8 258.2 L624.5 256.8 L623.7 255.7 L623 255.2 L621.7 254.8 L620.8 255 L620.1 255.4 L619.4 256.4 L619.3 257.6 L619.7 258.6 L620.5 259.5 L621.7 260.3 L623.2 260.6 L624.9 260.5 L626.4 259.9 L627.6 259 L628.6 257.8 L629.2 256.3 L629.3 254.5 L628.8 252.8 L627.8 251.4 L626.7 250.6 L625.4 250.3 L624.4 250.3 L623.6 250.7 L623.2 251.3 L623 252.5 L623.5 253.7 L624.6 254.6 L626 255.2 L627.4 255.4 L629 255.1 L630.5 254.5 L631.9 253.3 L632.7 252.2 L633.2 251.1 L633.3 250 L632.9 248.7 L632.2 248.1 L631 247.8 L630.1 248.1 L629.1 249.1 L628.6 250.2 L628.3 251.9 L628.6 253.6 L629.6 255.4 L631 256.7 L632.8 257.5 L634.2 257.7 L635.8 257.3 L636.9 256.4 L637.4 255.4 L637.4 254.5 L636.8 253.3 L635.9 252.6 L634.6 252.3 L633.1 252.6 L631.8 253.5 L630.9 254.8 L630.7 256.2 L630.8 258 L631.6 259.7 L632.7 260.9 L634.4 261.8 L636.2 262.2 L637.9 262 L639.2 261.5 L640.4 260.6 L641 259.6 L641.3 258.6 L640.9 257.5 L641.7 259.1 L641.8 260.9 L641.4 262.3 L640.7 263.4 L639.8 264.3 L638.6 264.7 L637.8 264.8 L636.9 264.4 L636.4 263.9 L636.1 263 L636.3 262.2 L637.1 261.4 L638 261.1 L639.1 261.1 L638.1 261.8 L637.2 262.8 L636.6 263.9 L636.2 265.2 L636.1 266.4 L636.3 267.7 L637 268.9 L637.9 269.6 L638.7 269.9 L639.6 269.7 L640.1 269.2 L640.2 268.6 L640 267.9 L639.5 267.4 L638.8 266.7 L637.6 266.4 L636.2 266.5 L634.7 267.1 L633.4 268.3 L632.6 269.8 L632.2 271.2 L632.3 273 L632.9 274.4 L633.8 275.4 L634.8 276 L635.8 276.1 L636.6 275.8 L637.4 275 L636 276.2 L634.2 276.8 L632.3 276.8 L630.7 276.1 L629.4 275.1 L628.5 273.8 L628.1 272.4 L628.2 270.7 L628.9 269.4 L630 268.6 L631 268.4 L631.9 268.7 L632.7 269.5 L633 270.4 L632.8 271.4 L632.2 272.4 L631.3 273.2 L630.2 273.6 L628.8 273.8 L627.5 273.6 L626 272.8 L625 271.9 L624.1 270.5 L623.7 269.2 L623.7 267.7 L624.1 266.4 L625 265.4 L625.6 265 L624.3 264.9 L623.1 265.2 L621.9 265.9 L621.1 266.7 L620.6 267.8 L620.8 269.1 L621.4 270.1 L622.4 270.6 L623.1 270.6 L624.4 270.1 L625.1 269.2 L625.6 267.7 L625.4 266.5 L624.9 265.2 L624 264.1 L622.6 263.3 L620.8 262.9 L619.2 263.1 L617.6 263.7 L616.3 264.8 L615.1 266.3 L614.4 268.1 L614.3 269.9 L614.7 271.6 L615.5 273 L616.7 274 L618.3 274.5 L619.5 274.4 L620.6 273.8 L621.4 272.8 L621.8 271.5 L621.5 270.3 L620.8 269.4 L619.7 269 L618.9 269.2 L618 269.8 L617.4 270.6 L617 271.7 L616.9 272.9 L617.1 274.1 L617.6 275.3 L618.6 276.5 L619.8 277.2 L621.2 277.5 L622.7 277.3 L624 276.6 L625.2 275.3 L625.8 273.8 L625.9 272.3 L625.8 271.1 L625.4 270 L624.6 269.1 L623.8 268.7 L623.1 268.6 L622.1 269.2 L621.8 269.8 L622.9 268.8 L624.4 268.2 L626.1 268.1 L627.6 268.6 L628.9 269.6 L629.9 271.1 L630.4 272.5 L630.5 273.9 L630.2 275.2 L629.4 276.2 L628.6 276.8 L627.5 276.8 L626.9 276.5 L626.3 275.6 L627.3 276.5 L628.8 277.1 L630.3 277.1 L631.6 276.7 L632.9 275.9 L634 274.6 L634.6 273.1 L634.8 271.5 L634.4 269.8 L633.6 268.6 L632.7 267.8 L631.7 267.5 L630.6 267.8 L630 268.3 L629.8 269.1 L629.9 270 L630.3 271 L631.3 272.1 L632.7 273 L634.4 273.4 L636.1 273.2 L637.5 272.8 L638.9 272 L639.9 270.9 L640.5 269.6 L640.7 268.5 L640.4 267.3 L639.9 266.5 L639.2 266.1" fill="none" stroke="#9ca4f6" stroke-width="1.7" stroke-linejoin="round"/>
<path d="M698.3 245.9 L698 244.9 L697.2 243.8 L696.3 243.4 L695.1 243.1 L693.9 243.3 L692.4 243.6 L691 244.3 L689.7 245.3 L688.3 246.7 L687.2 248.4 L686.5 250.3 L686.3 251.9 L686.4 253.6 L686.4 253.1 L686.8 252.3 L687.6 251.7 L688.9 251.1 L690.4 250.9 L692.1 251 L693.7 251.4 L695.4 252.1 L697 253 L698.4 254.1 L699.8 255.6 L700.8 257 L701.6 258.8 L701.8 260.5 L701.6 261.8 L701.2 262.6 L700.6 263.2 L700.1 263.4 L699.3 263.3 L698.9 262.9 L698.3 262.2 L697.7 261.1 L697.5 259.7 L697.8 258.4 L698.2 256.9 L698.8 255.6 L699.7 254.2 L700.8 252.9 L700.6 253.3 L700.4 253.9 L700.7 254.5 L701.2 255.3 L702.2 256.2 L703.4 256.7 L704.7 256.9 L706.5 256.9 L708.1 256.5 L709.6 255.8 L711 254.8 L712.1 253.7 L713.2 252 L713.8 250.3 L713.9 248.3 L713.6 246.7 L712.8 245.1 L711.5 243.5 L709.9 242.3 L708.2 241.6 L706.3 241.2 L704.6 241.1 L703 241.2 L701.6 241.5 L700.2 242.1 L699.1 242.9 L698.4 243.8 L698 245 L698.3 246 L698.9 246.5 L699.7 246.7 L700.7 246.6 L701.5 246.1 L702.6 245.3 L703.4 244.2 L704.1 242.7 L704.5 241 L704.4 239.6 L704.2 238.2 L703.7 236.7 L702.9 235.3 L701.7 233.9 L700.4 232.7 L698.9 231.8 L697.3 231.3 L695.4 231.1 L693.6 231.4 L692 232 L690.7 233 L689.8 234.2 L689.4 235.4 L689.2 236.3 L689.3 237.2 L689.6 237.9 L690.1 238.4 L691.1 238.8 L689.4 238.5 L687.9 238 L686.4 237.3 L685.3 236.6 L684.4 235.9 L683.8 235 L683.5 234.3 L683.5 233.6 L683.8 233 L684.3 232.7 L684.9 232.6 L685.8 232.8 L686.7 233.3 L687.2 233.9 L687.6 234.8 L687.7 235.6 L687.5 236.4 L687.2 237.1 L686.6 237.8 L685.8 238.3 L684.9 238.7 L683.6 239.2 L682 239.3 L680.7 239.1 L679.2 238.7 L677.6 238 L676.3 237.2 L675.2 236.4 L674 235.4 L673.1 234.3 L672.5 233.3 L672.2 232.2 L672 231.5 L672.2 230.8 L672.6 230.3 L673.1 230.1 L673.5 230.2 L673.9 230.7 L674.1 231.3 L674.3 232 L674.4 233 L674.3 234.3 L673.5 233.5 L672.4 232.8 L671 232.4 L669.7 232.4 L668 232.6 L666.3 233.3 L664.9 234.2 L663.7 235.4 L662.5 237 L661.5 238.9 L661 240.6 L660.8 242.3 L661 243.9 L661.3 245.1 L661.9 246.2 L662.8 246.8 L663.5 246.9 L664.3 246.6 L665 245.9 L665.2 245 L665.3 243.8 L665.1 242.4 L664.5 241 L663.6 239.6 L662.5 238.5 L661.1 237.5 L659.6 236.9 L657.9 236.5 L656.2 236.7 L654.7 237.2 L653.4 238 L652.3 239.1 L651.2 240.7 L650.7 242.2 L650.3 244 L650.2 245.7 L650.5 247.6 L650.8 249 L651.6 250.4 L652.5 251.5 L653.2 252.1 L653.9 252.5 L654.5 252.5 L654.9 252.3 L655.2 251.6 L655.3 250.6 L655 249.6 L654.3 248.2 L653.4 247 L652.3 246 L651 245.2 L649.4 244.4 L647.7 244 L646.2 243.8 L644.7 244 L643.2 244.5 L641.9 245.4 L640.8 246.7 L640.1 248.2 L639.7 249.7 L639.5 251.3 L639.8 253.1 L640.1 254.6 L640.7 256 L641.4 257.1 L642.6 258.2 L643.8 258.9 L645.1 259.2 L646.3 259.2 L647.2 259 L648 258.5 L648.7 257.6 L649.1 256.8 L649.5 256 L649.7 255.1 L649.6 254.2 L649.5 253.6 L649 253 L648.3 252.9 L647.9 253.1 L647.4 253.7 L647.1 254.7 L647.1 255.8 L647.2 257 L647.4 258.4 L647.8 259.9 L648.3 261.3 L649.2 262.9 L650.4 264.4 L651.6 265.4 L652.7 266.2 L654.1 266.7 L655.4 266.7 L656.3 266.6 L657 266.2 L657.6 265.4 L657.8 264.9 L657.7 263.9 L657.1 263.2 L656.5 262.8 L655.9 262.7 L655.1 262.7 L654.2 263 L653.1 263.6 L652.1 264.5 L651.4 265.8 L651 267.1 L650.8 268.7 L651 270.5 L651.5 272 L652.3 273.3 L653.4 274.7 L653.3 274 L653.5 273.3 L654 272.2 L654.8 271.4 L656 270.5 L657.4 269.8 L658.8 269.5 L660.6 269.3 L662.4 269.5 L664.1 269.9 L665.7 270.7 L667 271.6 L668 272.5 L668.8 273.5 L669.3 274.8 L669.7 275.7 L669.8 276.7 L669.7 277.4 L669.5 278 L669.2 278.5 L668.7 278.6 L668.3 278.5 L667.8 278.1 L667.5 277.6 L667.3 276.6 L667.4 275.6 L667.8 274.6 L668.5 273.4 L669.4 272.6 L670.5 271.8 L671.8 271.2 L673.5 270.8 L675.2 270.7 L677 270.9 L678.6 271.4 L680 272 L681.4 272.8 L682.6 273.8 L683.5 275.1 L684.1 276.2 L684.4 277.1 L684.5 277.9 L684 278.7 L683.6 279 L683 278.9 L682.1 278.5 L681.2 277.8 L680.5 276.8 L679.8 275.6 L679.1 273.9 L678.8 272.5 L678.7 270.6 L679 268.8 L679.6 267.2 L680.4 265.8 L681.5 264.8 L681 265.2 L680.7 265.9 L680.7 266.8 L681 267.9 L681.5 269 L682.2 270.2 L683.3 271.6 L684.6 272.7 L686.2 273.7 L687.9 274.4 L689.5 274.8 L691.1 275 L692.8 274.7 L694.4 274.1 L695.7 273.3 L696.7 272.5 L697.4 271.4 L697.9 270.1 L698.1 269 L698.2 268.2 L697.9 267.4 L697.2 266.8 L696.8 266.6 L696.3 266.6 L695.6 266.8 L694.8 267.5 L694.5 268.3 L694.3 269.1 L695.3 267.7 L696.5 266.3 L698.1 265.1 L699.9 264.2 L701.4 263.7 L702.8 263.4 L704.1 263.4 L705.1 263.6 L706 263.9 L706.6 264.7 L706.7 265.7 L706.4 266.3 L705.9 266.7 L704.8 267.4 L703.6 267.7 L702 267.7 L700.2 267.4 L698.3 266.7 L696.7 265.6 L695 264 L693.8 262.2 L693 260.6 L692.5 258.8 L692.3 257.2 L692.4 255.6 L693.1 254.1 L693.9 252.9 L694.9 252.1 L693.1 252.1 L691.5 252.4 L690.1 253 L688.9 254 L688.2 255.2 L687.9 256.3 L688.1 257.2 L688.7 258 L689.5 258.5 L690.7 258.7 L691.9 258.4 L693 257.7 L693.8 256.8 L694.5 255.5 L695.1 253.8 L695.1 252 L694.7 250 L693.8 248.2 L692.6 246.7 L691.1 245.5 L689.6 244.6 L687.6 243.9 L685.5 243.6 L683.5 243.8 L681.6 244.4 L680.2 245.1 L678.9 246.2 L678 247.3 L677.5 248.6 L677.3 249.9 L677.3 250.8 L677.5 251.7 L677.9 252.4 L678.4 252.8 L679.1 253.1 L679.5 253.1 L679.9 252.9 L680.3 252.5 L680.7 251.7 L680.9 250.6 L680.7 249.5 L680.1 248.4 L679.2 247.7 L678.1 247 L676.8 246.4 L675.1 246 L673.5 246 L671.7 246.3 L670.2 246.9 L668.5 247.9 L667.2 249.1 L666.2 250.6 L665.6 252.2 L665.3 253.7 L665.4 255 L665.7 256.2 L666.1 257.3 L666.9 258.4 L667.6 259.1 L668.5 259.8 L669.4 260.1 L670.4 260.1 L671.2 260 L671.7 259.7 L672 259.3 L672.1 258.9 L672 258.3 L671.6 257.9 L671.1 257.6 L670.4 257.4 L669.5 257.4 L668.5 257.6 L667.6 258.1 L667 258.8 L666.8 259.6 L666.8 260.6 L667 261.7 L667.6 263 L668.5 264 L669.6 264.8 L671 265.6 L672.7 266.3 L674.5 266.6 L676.2 266.7 L675.7 266.6 L675.1 266.3 L674.9 265.8 L674.8 265 L674.9 264 L675.3 263 L676 262.1 L676.8 261.2 L677.8 260.5 L679 259.9 L680.6 259.3 L682.1 259.1 L683.9 259.3 L685.5 259.8 L686.9 260.6 L688.2 261.8 L689.1 263.1 L689.6 264.5 L689.9 266.4 L689.8 268.1 L689.4 269.7 L688.8 271.2 L688.1 272.3 L687.1 273.3 L686 273.9 L685 274.2 L684.1 274 L683.5 273.5 L683.3 272.5 L683.5 271.5 L684.2 270.7 L685.2 269.8 L686.5 269 L688.2 268.4 L690 268.1 L692.1 268.2 L694.1 268.6 L695.6 269.2 L697.1 270 L698.2 270.7 L699.1 272 L699.7 272.8 L699.9 273.7 L699.9 274.4 L699.5 275 L699 275.2 L698.2 275.2 L697.1 274.9 L696.3 274.2 L695.3 273.3 L694.4 271.9 L693.8 270.4 L693.4 268.5 L693.3 266.5 L693.6 264.5 L694.2 263 L693.7 263.6 L693.6 264.1 L693.8 264.9 L694.2 265.4 L695 265.8 L695.7 265.8 L696.7 265.7 L697.8 265.2 L699.1 264.5 L700 263.5 L700.8 262.4 L701.7 260.8 L702.3 259.3 L702.7 257.7 L702.9 256 L702.7 254.3 L702.3 252.7 L701.6 251.5 L701 250.7 L700.4 250.1 L699.8 249.9 L699.2 250.1 L698.7 250.7 L698.7 251.4 L698.8 252.5 L699.4 253.7 L700.2 254.5 L701.2 255.6 L701 254.7 L701 253.7 L701.4 252.7 L702.1 251.9 L703 251.4 L704.1 251 L705.8 250.8 L707.3 251 L708.9 251.5 L710.5 252.5 L711.9 253.7 L713 255.1 L713.9 256.8 L714.4 258.8 L714 258 L713.1 257.1 L711.7 256.4 L710.1 256.1 L708.3 256.2 L706.3 256.7 L704.4 257.6 L702.6 258.9 L701.1 260.6 L700 262.5 L699.4 264.1 L699.2 265.9 L699.2 267.4 L699.6 268.7 L700.6 269.8 L701.5 270.4 L702.4 270.6 L703 270.6 L703.8 270.2 L704.3 269.6 L704.3 269 L704.1 268.2 L703.6 267.2 L702.8 266.6 L701.7 266 L700.5 265.6 L699.1 265.4 L697.8 265.4 L698.4 266 L698.8 266.8 L699.1 268 L699.1 269.3 L698.8 270.9 L698.1 272.1 L697 273.5 L695.6 274.7 L694.1 275.4 L692.6 275.9 L691 276.2 L689.1 276.2 L687.1 275.6 L685.7 275 L684.6 274.1 L683.5 272.9 L682.8 271.4 L682.5 269.8 L682.5 268.7 L682.8 267.4 L683.4 266.4 L683.8 265.8 L684.6 265.5 L685.3 265.5 L686 265.8 L686.3 266.5 L686.3 267.4 L686 268.2 L685.3 269.2 L684.4 269.9 L683.4 270.4 L681.9 271.1 L680.3 271.4 L678.9 271.4 L677.5 271.2 L675.9 270.8 L674.5 270.2 L673.1 269.3 L672.1 268.4 L671.2 267.3 L670.7 266.5 L670.4 265.5 L670.3 264.7 L670.4 264.2 L670.5 263.9 L670.9 263.8 L671.1 264 L671.4 264.4 L671.6 265.1 L672 266.1 L672.1 267.2 L672.1 268.6 L671.8 270.1 L671.3 271.4 L670.5 272.7 L669.4 273.9 L668.2 274.7" fill="none" stroke="#5b6ee6" stroke-width="1.2" stroke-linejoin="round"/>
<path d="M708,258 C718,258 726,262 730,268" fill="none" stroke="#5b6ee6" stroke-width="1.2"/>
<path d="M681.7 308.3 L681.1 307.2 L680.1 306 L678.8 304.9 L677.7 304.1 L676.6 303.5 L675.3 303 L674.2 302.6 L673.1 302.4 L672.1 302.4 L671.4 302.4 L670.8 302.5 L670.5 302.8 L670.5 302.9 L670.7 303.1 L671.3 303.2 L672 303 L672.7 302.5 L673.6 301.9 L674.5 300.9 L675.3 299.7 L675.9 298.5 L676.3 297.1 L676.6 295.5 L676.7 293.8 L676.5 292.1 L676.1 290.5 L675.3 288.9 L674.5 287.7 L673.4 286.6 L672.2 285.7 L671.2 285 L670 284.6 L669.2 284.2 L668.4 284.1 L667.7 284.1 L667.2 284.1 L666.8 284.3 L666.7 284.5 L666.6 284.6 L666.8 284.8 L666.9 284.8 L667 284.9 L667.4 284.9 L667.5 284.8 L667.8 284.4 L667.8 284 L667.7 283.4 L667.6 282.7 L667.1 282.1 L666.6 281.1 L665.8 280.3 L664.8 279.4 L663.7 278.7 L662.3 278.2 L660.9 277.9 L659.5 277.9 L657.9 278.1 L656.4 278.6 L655 279.5 L653.7 280.7 L652.7 282 L651.9 283.6 L651.4 285.1 L651.1 286.6 L651 288.2 L651.1 289.6 L651.5 291.1 L651.9 292.3 L652.4 293.2 L653 294 L653.6 294.5 L654.1 294.9 L654.4 295.1 L654.6 295.2 L654.7 295.1 L654.7 294.9 L654.5 294.5 L654 294.2 L653.4 294.1 L652.6 293.9 L651.8 294 L650.8 294.1 L649.8 294.5 L648.6 294.9 L647.7 295.7 L646.7 296.8 L645.9 298.1 L645.6 299.4 L645.3 301.2 L645.5 302.9 L645.9 304.7 L646.5 306.3 L647.6 308.1 L648.7 309.5 L650.3 310.9 L651.8 312 L653.6 312.7 L652.5 313.1 L651.7 313.1 L651.3 313.1 L650.9 312.8 L650.8 312.3 L651 312 L651.5 311.9 L652.2 311.5 L653.1 311.4 L654.3 311.1 L655.5 311.1 L657 311.2 L658.6 311.5 L660.1 311.9 L661.7 312.4 L663.1 312.9 L664.4 313.4 L665.6 314 L666.8 314.9 L667.7 315.6 L668.3 316.3 L668.7 316.9 L668.7 317.4 L668.5 317.7 L667.9 317.8 L667.3 317.4 L666.6 316.9 L665.6 316 L664.9 314.8 L664 313.3 L663.2 311.4 L662.7 309.4 L662.5 307.7 L662.5 305.8 L662.8 303.9 L663.3 302.2 L663.8 300.9 L664.5 299.7 L665.5 298.8 L666.5 298.3 L667.4 298 L668.2 298 L667.1 296.7 L666 295.7 L664.8 294.9 L663.8 294.5 L663 294.3 L662.4 294.2 L662 294.4 L661.8 294.8 L661.8 295.2 L662.1 295.4 L662.7 296 L663.5 296.3 L664.6 296.5 L665.8 296.4 L667 296.2 L668.4 295.6 L669.9 294.6 L671.1 293.3 L672.1 291.9 L672.9 290.3 L673.6 288.4 L673.9 286.5 L673.9 284.7 L673.8 283 L673.4 281.5 L672.6 280 L671.4 278.6 L670.1 277.6 L668.8 277 L667.4 276.7 L665.8 276.7 L664.4 276.9 L662.9 277.5 L661.6 278.2 L660.5 279.2 L659.6 280.1 L659 280.9 L658.5 281.9 L658.3 282.7 L658.4 283.6 L658.5 284.1 L659 284.4 L659.5 284.5 L659.8 284.3 L660.2 283.9 L660.6 283.1 L660.6 282.3 L660.4 281.4 L659.9 280.3 L659.2 279.2 L658.1 278 L656.8 277.2 L655.1 276.3 L653.6 276 L651.6 275.8 L649.6 276 L650.3 276.3 L651.1 277 L651.7 278.1 L651.8 279.3 L652 281 L651.7 283 L651.2 284.5 L650.2 286.4 L649.1 287.9 L647.9 289.2 L646.1 290.5 L644.2 291.5 L642.1 292.1 L640.1 292.2 L638.3 291.9 L636.5 291.2 L635.1 290.3 L634.1 289.2 L633.3 288.3 L632.9 287.2 L632.7 286.2 L632.7 285.6 L633 285 L633.3 284.8 L633.6 284.9 L633.9 285.1 L634.5 285.7 L634.8 286.5 L633.1 286.3 L631.3 286.5 L629.5 287.1 L627.7 288 L626 289.4 L624.6 291 L623.5 292.6 L622.7 294.6 L622.3 296.5 L622.2 298.5 L622.5 300.3 L623.3 302.1 L624.3 303.4 L625.6 304.4 L627 304.7 L628.4 304.8 L629.7 304.5 L630.6 304.2 L631.6 303.6 L632.3 302.9 L632.8 302.5 L633.1 302.2 L633.2 301.7 L633.1 301.4 L632.9 301.3 L632.6 301.5 L632.3 301.9 L631.8 302.5 L631.4 303.3 L631 304.3 L630.7 305.6 L630.7 307.1 L631 308.4 L631.5 310 L632.3 311.6 L633.4 313 L634.8 314.3 L636.4 315.4 L637.8 316 L639.3 316.5 L640.8 316.8 L642.2 316.8 L643.7 316.5 L644.8 316.3 L645.7 315.9 L646.5 315.4 L647.1 314.7 L647.3 314.2 L647.5 313.9 L647.3 313.6 L647.1 313.5 L646.9 313.6 L646.5 313.8 L645.8 314.2 L645.3 314.9 L645 315.8 L645 316.8 L645.3 317.9 L645.9 318.9 L646.7 319.6 L647.9 320.5 L649.1 321 L650.6 321.4 L652.2 321.5 L653.9 321.4 L655.5 321 L656.8 320.4 L658.2 319.6 L659.5 318.6 L660.6 317.3 L661.4 316 L662 314.5 L662.2 313.2 L662.2 311.5 L661.9 309.9 L661.5 308.6 L660.7 307.3 L659.7 306.2 L658.7 305.4 L657.9 304.8 L657 304.5 L656.1 304.4 L655.4 304.5 L655 304.9 L654.6 305.3 L654.5 305.6 L654.5 305.9 L654.8 306.2 L655.2 306.3 L656 306.3 L656.8 306 L657.6 305.3 L658.4 304.3 L659.2 302.8 L659.6 301.3 L660 299.4 L660 297.5 L659.9 295.6 L659.8 296 L659.6 296.6 L659.3 297 L659 297.1 L658.5 297.3 L658 297.2 L657.3 296.9 L656.6 296.3 L656 295.4 L655.4 294.1 L655.2 292.8 L655.2 291.4 L655.1 289.8 L655.3 288.3 L655.3 286.4 L655.5 284.8 L655.8 283.2 L656.5 281.5 L657.4 279.9 L658.1 278.7 L659.3 277.7 L660.5 277.2 L661.3 277.1 L662.1 277.4 L662.5 278 L662.4 278.5 L662.1 279.5 L661.3 280.5 L660.2 281.4 L658.7 282.3 L656.9 283 L655.2 283.4 L653.3 283.6 L651.3 283.6 L649.2 283.3 L647.6 283 L646.1 282.5 L644.7 282 L643.6 281.4 L642.7 280.6 L642.1 279.5 L641.9 278.8 L642.1 278.4 L642.6 278.1 L643.4 278.1 L644.1 278.5 L644.9 279.2 L645.6 280.2 L646.3 281.5 L646.7 283 L646.9 284.7 L646.8 286.4 L646.5 288 L645.9 289.5 L645.1 291.1 L644 292.4 L642.8 293.7 L641.5 294.7 L640 295.5 L638.8 296.1 L637.3 296.4 L635.9 296.5 L634.6 296.2 L633.6 295.7 L632.9 295.2 L632.4 294.7 L632.2 294 L632.3 293.4 L632.5 293 L632.7 292.8 L633 292.6 L633.8 292.5 L634.3 292.7 L634.7 293.2 L634.9 293.9 L634.7 294.6 L634.3 295.5 L633.6 296.3 L632.7 297.4 L631.6 298.3 L630.1 299.3 L628.8 299.8 L627.4 300.3 L625.9 300.6 L624.3 300.5 L623.1 300.1 L622.6 299.6 L622.2 298.8 L622.4 298.1 L622.9 297.5 L623.6 296.6 L624.7 295.9 L625.9 295.3 L627.3 294.9 L628.8 294.4 L630.3 294 L632 293.5 L633.4 293.3 L632.9 293.2 L632.6 293.1 L632.2 293.1 L631.7 293.3 L631.4 293.3 L631.2 293.4 L631.2 293.5 L631.5 293.6 L632 293.7 L632.5 293.5 L633.5 293.3 L634.5 292.9 L635.8 292.3 L636.9 291.5 L636.3 291 L635.9 290.4 L635.6 289.6 L635.4 288.8 L635.2 287.6 L635.4 286.4 L635.8 285.2 L636.4 284 L637.3 282.8 L638.4 281.9 L639.5 281.1 L641 280.3 L642.3 279.8 L643.8 279.4 L645.2 279.1 L646.7 279 L648.3 279.1 L650 279.5 L651.5 280 L653 280.9 L654.2 282.1 L655.1 283.2 L655.8 284.4 L656 285.7 L655.9 286.8 L655.5 287.8 L655.1 288.4 L654.6 288.8 L653.8 289.1 L653.1 289.3 L652.2 289.1 L651.5 288.8 L651.1 288.6 L650.8 288 L650.8 287.8 L650.9 287.6 L651.5 287.2 L651.9 287.2 L652.9 287.3 L653.7 287.6 L654.7 288.2 L655.7 289.1 L654.3 289.4 L652.6 289.9 L651 290.6 L649.3 291.6 L647.8 292.8 L646.4 294.1 L645.1 295.7 L644.1 297.1 L643.3 298.7 L642.8 300.2 L642.4 301.5 L642.6 302.9 L643.2 303.9 L643.5 304.4 L641.7 303.6 L640.3 302.7 L638.9 301.2 L637.7 299.3 L637 297.6 L636.5 295.9 L636.4 294 L636.6 292 L637.2 290.3 L637.8 289 L638.9 287.8 L640.1 287.1 L641.4 286.8 L642.6 287 L643.3 287.4 L643.9 287.9 L644.4 288.6 L644.8 289.1 L645 289.6 L645.2 290 L645.2 290.4 L644.9 290.7 L644.6 290.7 L644.4 290.5 L644.1 290.1 L644 289.5 L643.8 288.7 L643.8 287.7 L643.8 286.9 L644 286 L644.4 285.1 L645.1 284 L646.2 283 L647.6 282.1 L649.1 281.6 L650.9 281.3 L652.9 281.3 L655 281.6 L656.9 282.3 L658.6 283.1 L660.2 284.3 L661.3 285.2 L662.3 286.6 L662.9 287.8 L663.3 288.7 L663.6 289.4 L663.7 290 L663.5 290.5 L663.1 290.7 L662.7 290.5 L662.5 290.2 L662 289.5 L661.9 288.7 L661.6 287.6 L661.6 286.5 L661.8 285.3 L662.5 286.2" fill="none" stroke="#b6a2da" stroke-width="1.1" stroke-linejoin="round"/>
<path d="M664.8 303.3 L666 303.7 L667.3 303.5 L668.3 303 L669.4 302.1 L670.2 300.7 L670.7 298.9 L670.7 297.1 L670.3 295.5 L669.4 293.9 L668.3 292.5 L666.9 291.5 L665.5 291 L664.3 290.9 L663.2 291.1 L662.4 291.6 L662 292.2 L661.9 292.7 L662 293.2 L662.5 293.9 L663.4 294.3 L664.3 294.4 L665.4 294.2 L666.9 293.7 L667.9 293 L669.2 291.8 L670.1 290.3 L670.7 288.8 L671 287.6 L671 286 L670.7 284.7 L669.9 283.6 L668.9 282.9 L668.3 282.8 L667.7 282.9 L667.2 283.3 L666.6 284.3 L666.4 285.6 L666.7 286.9 L667.2 288.1 L668.1 289.4 L669.5 290.8 L671.3 291.8 L673.1 292.2 L674.9 292.3 L676 292.1 L677.1 291.8 L678.1 290.9 L678.5 290 L678.6 289.2 L678.3 288.6 L677.7 288 L676.9 287.6 L675.8 287.5 L674.7 287.7 L673.7 288.2 L675.1 288.5 L676.5 288.9 L678 289.6 L679.1 290.5 L680.2 291.7 L680.9 292.9 L681.3 294.1 L681.3 295.2 L681.2 296 L681 296.6 L680.6 296.9 L680.1 297.1 L679.5 297.1 L679.1 296.8 L678.8 296.5 L678.5 295.9 L678.5 295.2 L678.8 294.5 L679.4 293.6 L680.3 293 L681.3 292.6 L682.5 292.3 L684.1 292.3 L685.4 292.6 L686.6 293.1 L687.9 294.2 L688.8 295.4 L689.3 296.9 L689.4 298.1 L689.1 299.3 L688.4 300.7 L687.5 301.7 L686.2 302.5 L684.9 302.9 L683.5 303 L682.4 302.9 L681.3 302.4 L680.6 301.9 L680.1 301.3 L679.9 300.5 L680.1 299.9 L680.6 299.3 L681.5 299.1 L682.4 299.4 L683.1 299.9 L683.9 300.8 L684.5 302.2 L684.8 303.7 L684.6 305.1 L684.2 306.6 L683.5 307.8 L682.5 309 L681.4 309.8 L680.2 310.4 L679 310.6 L677.8 310.6 L676.7 310.2 L675.6 309.6 L674.7 308.5 L674.1 307.5 L673.7 306.4 L673.7 305.2 L674.1 303.9 L674.8 303 L675.5 302.4 L676 302.2 L676.8 302.3 L677.4 302.8 L677.7 303.6 L677.6 304.4 L677.2 305.4 L676.3 306.3 L675.2 306.7 L674 306.9 L672.7 306.7 L671.4 306.2 L670.1 305.4 L669.1 304.3 L668.3 303 L667.7 301.4 L667.5 300 L667.6 298.7 L667.9 297.5 L668.6 296.4 L669.6 295.7 L670.5 295.5 L671.3 295.7 L671.7 296.1 L671.9 296.8 L671.9 297.8 L671.5 298.7 L670.7 299.6 L669.6 300.5 L668.1 301.1 L666.7 301.3 L665.3 301.3 L664 301 L662.7 300.5 L661.4 299.6 L660.4 298.6 L659.8 297.5 L659.6 296.3 L659.7 295.5 L660.2 294.7 L660.7 294.3 L661.3 294.3 L661.9 294.5 L662.7 295.1 L663.4 296.1 L663.5 297.1 L663.4 298.5 L663 299.6 L662.2 301.1 L661.1 302.1 L659.7 302.9 L658.2 303.4 L656.6 303.5 L655.1 303.4 L653.8 303.1 L652.6 302.6 L651.4 301.7 L650.6 300.6 L650.3 299.5 L650.3 298.6 L650.8 297.7 L651.3 297.4 L652 297.3 L653.3 297.5 L654.4 298.2 L655.1 299.2 L655.8 300.3 L656.3 302 L656.5 303.6 L656.4 305.1 L656.1 306.6 L655.5 307.9 L654.7 309 L653.8 309.8 L652.8 310.1 L652.1 310.2 L651.4 309.9 L650.8 309.2 L650.7 308.1 L651 307.1 L651.8 306.2 L652.8 305.4 L654.2 304.7 L655.7 304.4 L657.2 304.3 L658.9 304.5 L660.3 304.9 L661.8 305.7 L662.9 306.8 L663.5 307.6 L663.5 306.4 L663.1 305 L662.1 303.9 L661.2 303.1 L660 302.6 L659 302.4 L657.8 302.7 L657.2 303 L656.8 303.8 L656.8 304.3 L657.1 305.1 L657.9 305.8 L659.2 306.4 L660.6 306.7 L662.2 306.5 L663.8 306.1 L665.2 305.4 L666.4 304.4 L667.2 303.2 L667.7 301.9 L667.7 300.9 L667.2 300 L666.5 299.5 L665.9 299.4 L664.9 299.7 L664.3 300.2 L663.6 301.2 L663.3 302.5 L663.3 303.8 L663.8 305.1 L664.6 306.1 L665.8 307.1 L667.5 307.9 L669.1 308.2 L670.8 308 L672.6 307.5 L674.3 306.4 L675.4 305.2 L676.2 303.9 L676.7 302.5 L676.9 300.9 L676.4 299.2 L675.8 298.2 L675 297.4 L673.8 296.8 L672.5 296.6 L671.5 296.7 L670.6 297.2 L670.1 297.7 L669.9 298.3 L670 299 L670.3 299.4 L671 299.8 L671.9 300.1 L673.1 300.2 L674.3 300 L675.7 299.6 L676.9 298.9 L678.2 297.9 L679.1 296.7 L679.7 295.4 L680 294.2 L679.9 293.2 L679.7 292.5 L679.3 292 L678.8 291.8 L678.3 291.9 L677.8 292.2 L677.3 293 L677.1 293.9 L677.2 294.9 L677.5 295.9 L678.1 297.3 L679 298.4 L680 299.3 L681.3 300 L682.5 300.5 L683.9 300.8 L685.3 300.7 L686.6 300.3 L687.3 299.8 L687.8 299.1 L687.9 298.5 L687.8 298 L687.2 297.5 L686.4 297.2 L685.2 297.3 L684.2 297.7 L683.1 298.5 L682.1 299.7 L681.3 301.2 L680.9 302.9 L680.9 304.5 L681.1 305.8 L681.6 307 L682.3 307.9 L683 308.5 L683.7 308.8 L682.5 309.2 L681 309.2 L679.8 308.9 L678.8 308.5 L677.9 307.6 L677.3 306.5 L677.1 305.7 L677.2 304.8 L677.4 304.2 L677.8 303.8 L678.2 303.7 L679 303.8 L679.7 304.2 L680.3 305.1 L680.6 306.2 L680.6 307.5 L680.2 308.6 L679.6 309.7 L678.5 311 L677 312 L675.4 312.6 L673.5 312.7 L671.8 312.3 L670.5 311.7 L669.4 310.9 L668.5 309.9 L668 308.5 L668 307.1 L667.3 308.3 L667 309.6 L667.1 310.8 L667.6 311.7 L668 312 L668.5 312.2 L669.3 312 L669.9 311.6 L670.2 310.9 L670.6 309.7 L670.5 308.8 L670.2 307.7 L669.5 306.4 L668.5 305.4 L667.4 304.5 L665.9 303.8 L664.6 303.5 L663.1 303.5 L661.4 304 L660.2 304.6 L659.2 305.7 L658.5 307 L658.2 308 L658.4 309.3 L659 310.3 L659.6 310.8 L660.7 311 L661.7 310.6 L659.9 310.8 L658.1 310.6 L656.4 310 L655.2 309.2 L654.1 308.1 L653.3 306.8 L653 305.4 L653 304.3 L653.2 303.4 L653.8 302.7 L654.5 302.2 L655.5 302.1 L656.4 302.6 L656.8 303.1 L655.2 302.3 L653.6 301.9 L651.7 302 L650 302.6 L648.5 303.6 L647.5 304.5 L646.8 305.4 L646.4 306.8 L646.4 307.9 L646.9 308.9 L647.5 309.4 L648.3 309.6 L649.3 309.4 L650 308.9 L650.8 307.8 L651.1 306.7 L651.2 305.3 L651 303.7 L650.4 302.1 L649.3 300.5 L648.2 299.4 L646.6 298.5 L645.1 298.1 L643.8 298 L642.6 298.3 L641.8 298.7 L641.2 299.5 L641 300.1 L641.1 300.6 L641.4 301.2 L642.1 301.8 L643.1 302.1 L644.6 302.2 L645.9 301.8 L647.6 300.9 L648.8 299.8 L649.8 298.4 L650.6 296.5 L650.9 294.6 L650.7 292.7 L650.3 291.5 L649.7 290.4 L649 289.8 L648.2 289.4 L647.3 289.5 L646.6 289.9 L645.9 290.9 L645.5 292.3 L645.7 293.6 L646.3 295.2 L647.3 296.6 L648.7 297.9 L650.6 298.8 L652.5 299.1 L654 299 L655.7 298.3 L656.8 297.5 L657.8 296 L658.3 294.4 L658.3 292.5 L657.7 290.7 L656.7 289.1 L655.7 288 L654.2 287.1 L652.5 286.7 L651.3 286.7 L650.1 287.2 L649.3 288.1 L649.1 288.9 L649.4 289.8 L650.1 290.7 L651.3 291.6 L652.9 292.1 L654.5 292.2 L656.4 291.8 L657.8 291.2 L659.3 290.2 L660.5 288.9 L661.3 287.5 L661.7 286.3 L661.9 285.1 L661.7 284.1 L661.2 283.3 L660.5 282.8 L659.8 282.7 L659.1 283 L658.4 283.7 L657.8 284.8 L657.7 286 L657.9 287.2 L658.4 288.8 L659.3 290.1 L660.3 291.1 L661.8 292.1 L663.1 292.6 L664.7 292.7 L666 292.6 L667.4 291.9 L668.6 290.9 L669.3 289.7 L669.7 288.5 L669.8 287.3 L669.5 286 L669 284.9 L668.2 284.1 L667.6 283.6 L667 283.3 L666.5 283.2 L665.9 283.7 L665.6 284.2 L665.6 285.1 L665.9 286 L666.6 287.2 L667.4 288.1 L668.8 289 L670.4 289.6 L671.8 289.9 L673.7 289.8 L675.2 289.5 L676.6 288.8 L677.6 288.1 L678.3 287.1 L678.6 286.1 L678.5 285.1 L677.8 284.2 L676.9 283.8 L678.4 285.1 L679.3 286.4 L679.8 288.1 L679.8 290.1 L679.2 291.9 L678 293.6 L676.9 294.7 L675.1 295.6 L673.6 296.1 L671.9 296.1 L670.3 295.6 L669.1 294.8 L668.4 293.7 L668.2 292.7 L668 294.7 L668.3 296.6 L668.9 298.1 L669.8 299.4 L670.9 300.3 L671.9 300.8 L673.3 300.9 L674.4 300.4 L675.2 299.6 L675.5 298.9 L675.5 297.7 L675 296.4 L674 295.4 L672.7 294.7 L671.2 294.6 L670 294.8 L668.7 295.6 L668 296.6 L667.5 297.8 L667.4 299.3 L667.7 300.8 L668.4 302.2 L669.4 303.5 L670.7 304.7 L672.2 305.7 L673.8 306.2 L675.7 306.5 L677.7 306.3 L679.3 305.4" fill="none" stroke="#a48bcd" stroke-width="1.1" stroke-linejoin="round"/>
<path d="M698.8 312.4 L698 311.3 L697.4 310.2 L697.1 309.2 L696.9 308.2 L697 307.1 L697.3 306.3 L697.7 305.8 L698.1 305.5 L698.6 305.6 L698.8 306 L698.8 306.6 L698.7 307.5 L698.3 308.4 L697.8 309.2 L697 310.3 L696 311.1 L694.5 312 L692.9 312.6 L691.3 312.8 L689.6 312.6 L688.3 312.3 L687.3 311.8 L686.5 311.2 L686.1 310.6 L686.1 309.7 L686.4 309.2 L687.2 308.7 L688 308.7 L689.4 309 L690.7 309.7 L691.8 310.7 L692.7 311.8 L693.5 313.2 L694 314.8 L694.3 316.3 L694.2 318 L693.8 319.4 L693.1 320.6 L692.3 321.5 L691.3 322 L690.3 322.1 L689.2 321.8 L688.4 321.2 L687.9 320.4 L687.7 319.9 L687.8 319.5 L688.1 319.2 L688.5 319.1 L689.5 319.1 L690.3 319.5 L691.4 320.2 L692.1 321.2 L692.7 322.4 L693.1 323.7 L693.3 325 L693.2 326.5 L692.8 327.5 L692.3 328.2 L691.6 328.6 L690.8 328.7 L689.6 328.4 L688.7 327.6 L687.9 326.4 L687.4 325 L687.2 323.2 L687.5 321.2 L688 319.6 L688.8 318.1 L689.9 316.8 L691.1 315.7 L692.5 314.9 L694.1 314.5 L695.8 314.4 L697.4 314.8 L698.5 315.3 L699.4 316.1 L699.9 316.9 L700 318.1 L699.8 318.9 L699 319.6 L698.2 319.8 L697.1 319.6 L696 319 L695.2 318.1 L694.3 316.6 L693.7 314.7 L693.6 312.8 L693.9 311 L694.4 309.4 L695.3 307.8 L696.8 306.3 L698.1 305.4 L699.6 304.9 L701.1 304.9 L702.2 305.2 L703.2 305.7 L704 306.7 L704.5 307.7 L704.5 309 L704.2 310.3 L703.5 311.1 L702.8 311.5 L702.1 311.6 L701.2 311.3 L700.4 310.6 L700 309.7 L700 308.7 L700.1 307.6 L700.7 306.1 L701.7 304.7 L703 303.7 L704.4 303.2 L706.1 303.1 L707.8 303.5 L709.5 304.4 L710.7 305.6 L711.9 307.3 L712.4 308.9 L712.7 310.9 L712.4 312.9 L712 314.4 L711.1 315.9 L710.2 316.9 L708.9 317.7 L707.5 318 L706 317.9 L704.7 317.4 L703.7 316.5 L703.1 315.6 L702.7 314.8 L702.8 313.7 L703 313.1 L703.7 312.4 L704.3 312.2 L705.2 312.3 L706.2 312.9 L707.1 314 L707.3 315.2 L707.3 316.5 L706.9 317.9 L706.1 319.3 L705 320.5 L703.7 321.4 L702.1 322.2 L700.4 322.5 L698.6 322.5 L696.8 322.1 L695.3 321.4 L694.2 320.5 L693.3 319.2 L692.7 318 L692.6 316.6 L692.7 315.7 L693.2 314.8 L693.8 314.2 L694.5 313.8 L695.3 313.7 L695.9 313.9 L696.3 314.5 L696.4 315.1 L696.1 315.9 L695.5 316.5 L694.7 316.7 L693.7 316.9 L692.5 316.9 L691.2 316.5 L690 315.8 L691 315.5 L691.9 315 L692.7 314.1 L693.6 312.9 L694.2 311.6 L694.6 310 L694.7 308.4 L694.5 306.9 L694 305.6 L693.6 304.7 L693.1 304.1 L692.4 303.7 L691.9 303.7 L691.5 303.9 L691.1 304.5 L691.1 305.2 L691.4 306.1 L692.1 307.2 L693 308.1 L694.3 309 L696 309.7 L697.5 310.1 L698.9 310.2 L700.7 310 L702 309.6 L703 308.9 L703.7 308.2 L704.1 307.5 L704.2 309.2 L704 310.8 L703.3 312.2 L702.6 313.1 L701.7 313.9 L700.9 314.4 L699.7 314.6 L698.7 314.5 L698 314 L697.6 313.4 L697.6 312.9 L697.9 312.5 L698.3 312.3 L698.8 312.3 L699.7 312.2 L700.5 312.5 L701.3 313.1 L702.1 314.2 L702.5 315.4 L702.7 316.9 L702.5 318.5 L702 320 L701.1 321.4 L700.1 322.5 L698.8 323.4 L697.4 324 L695.6 324.2 L694 323.8 L692.9 323.2 L692 322.2 L691.4 320.8 L691.1 319.4 L691.3 318.1 L691.7 317 L692.2 316.2 L692.5 315.7 L692.9 315.4 L693.3 315.4 L693.6 315.7 L693.6 316.3 L693.4 316.8 L692.8 317.7 L692.3 318.4 L691.5 319.2 L690.3 320.1 L688.9 320.8 L687.4 321.3 L685.9 321.5 L684.5 321.4 L683.4 321.1 L682.6 320.7 L682.1 319.9 L682.1 319.3 L682.4 318.7 L683.2 318.2 L684.3 318 L685.3 318.1 L686.6 318.4 L687.6 319 L688.5 319.6 L689.1 320.3 L689.5 320.8 L689.5 321.7 L689.1 322.4 L688.6 322.6 L687.7 322.5 L687.1 322.1 L686.4 321.3 L685.7 320.2 L685.4 318.8 L685.6 317.7 L686 316.3 L686.9 315.2 L688 314.4 L689.5 313.8 L690.8 313.7 L692.5 313.9 L694.1 314.5 L695.6 315.4 L696.6 316.3 L697.5 317.4 L698.1 318.6 L698.3 319.8 L698.2 320.7 L698 321.3 L697.7 321.6 L697 321.6 L696.5 321.2 L696.3 320.6 L696.1 319.6 L696.1 318.4 L696.5 317.3 L697.1 316.2 L698 315 L699 314.1 L700.1 313.3 L701.5 312.7 L702.7 312.4 L704 312.5 L704.8 312.7 L705.4 313 L705.7 313.4 L705.7 313.6 L705.6 313.9 L705.2 314 L704.5 314.1 L703.7 314 L702.7 313.7 L701.7 313 L700.7 312 L700.2 311 L699.7 309.7 L699.6 308.4 L699.7 307 L700.2 305.6 L700.8 304.5 L701.6 303.6 L702.6 302.8 L703.6 302.3 L704.7 302.1 L705.5 302 L706.1 302.1 L706.6 302.3 L706.9 302.5 L707 303 L706.8 303.2 L706.6 303.4 L705.9 303.6 L705 303.5 L703.8 303 L702.7 302.1 L701.8 300.9 L701.2 299.5 L700.8 298.1 L700.7 296.6 L700.9 295.2 L701.4 293.7 L702.2 292.5 L703.2 291.6 L704.4 291 L705.9 290.9 L707.1 291.1 L708.1 291.5 L709 292 L709.7 292.8 L710.2 293.9 L710.3 294.9 L710.3 295.6 L710 296 L709.8 296.2 L709.3 296.1 L709.1 295.8 L708.9 295.2 L708.6 294.3 L709.7 294.9 L710.9 295.1 L712.3 294.9 L713.5 294.5 L714.9 293.6 L715.8 292.6 L716.6 291.2 L717.1 289.8 L717.3 288.1 L717.1 286.5 L716.6 285.1 L715.9 283.9 L714.8 283 L714 282.5 L715.3 282.2 L716.3 282.1 L717 282.1 L717.8 282.6 L718.1 283 L718.1 283.4 L717.8 284 L717.3 284.3 L716.4 284.5 L715.3 284.5 L714.4 284 L713.6 283.3 L713 282.5 L712.5 281.5 L712 280.3 L711.8 278.9 L712.1 277.6 L712.7 276 L713.7 274.7 L715 273.6 L716.3 272.8 L718 272.4 L719.4 272.3 L720.7 272.6 L722 273.3 L722.8 274.2 L723.3 275.1 L723.4 276.1 L723.2 277.1 L722.7 277.9 L722.1 278.6 L721.4 279 L720.7 279.2 L719.8 279 L719.2 278.5 L719 278 L719.1 277.5 L719.5 276.8 L720.2 276 L721.2 275.5 L722.5 275.2 L724 275.3 L722.9 276.3 L722.1 277.5 L721.6 278.9 L721.4 280.7 L721.5 282.2 L721.8 283.7 L722.4 285.2 L723.3 286.5 L724.3 287.5 L725.2 288.2 L726.2 288.6 L727.1 288.6 L727.8 288.4 L728.1 288.1 L728.1 287.6 L727.9 286.9 L727.3 286.4 L726.4 285.9 L725.1 285.5 L723.8 285.5 L722.6 285.8 L721.2 286.3 L719.8 287.1 L718.8 288.1 L718 289.2 L717.5 290.2 L717.2 291.2 L717.1 292.2 L717 293.1 L717.2 293.8 L717.5 294.4 L718.1 294.8 L718.7 294.8 L719.1 294.6 L719.4 294 L719.4 293.2 L719 292.5 L718.3 291.5 L717.4 290.8 L716.3 290.4 L715 290.1 L713.6 290 L712.1 290.2 L710.5 290.6 L709 291.5 L707.7 292.6 L706.9 293.7 L706.3 295.2 L706.2 296.4 L706.4 297.5 L707 298.4 L707.6 298.9 L708.2 299 L709 298.8 L709.6 298.3 L709.9 297.4 L709.8 296.2 L709.3 295.2 L708.4 294.2 L707.3 293.6 L706.1 293.3 L704.7 293.1 L703 293.2 L701.6 293.7 L700.4 294.4 L699.3 295.3 L698.4 296.6 L697.8 297.8 L697.6 299.2 L697.6 300.2 L696.8 299.9 L696.1 299.3 L695.6 298.8 L695.6 298 L695.8 297.6 L696.2 297.4 L697 297.4 L698 297.9 L698.7 298.7 L699.3 299.9 L699.6 301.1 L699.7 302.5 L699.5 304.2 L698.9 305.6 L699 304.5" fill="none" stroke="#f6b348" stroke-width="1.1" stroke-linejoin="round"/>
<path d="M729,268 C734,278 728,285 724,292" fill="none" stroke="#f6b348" stroke-width="1.2"/>
<path d="M662.9 345.5 L664.2 344.5 L665.2 344 L666 343.7 L667.1 343.7 L667.8 343.8 L668.1 344.1 L668.3 344.7 L668.2 345.1 L667.7 345.8 L667 346.2 L666.1 346.4 L665.1 346.4 L664.1 346.2 L663.2 345.9 L662 345.3 L661.2 344.5 L660.6 343.3 L660.2 341.9 L660.2 340.5 L660.5 338.9 L661.3 337.1 L662.6 335.3 L664 334.1 L665.8 333.1 L667.4 332.5 L669.4 332.2 L671.2 332.3 L672.7 332.8 L674.2 333.9 L675.3 335.1 L676 336.3 L676.4 337.3 L676.6 338.2 L676.5 339 L676.3 339.6 L675.7 340.1 L675 340.2 L674.4 339.9 L673.6 339.2 L673 338.1 L672.6 336.6 L672.4 334.9 L672.5 332.9 L673.1 330.9 L673.7 329.4 L674.9 327.9 L676.3 326.7 L677.3 326 L678.6 325.7 L679.8 326 L680.3 326.2 L680.9 327 L681 328.1 L680.7 329.2 L680.2 329.8 L680.9 328.3 L681.5 326.1 L681.7 324.3 L681.7 322.7 L681.3 321.2 L680.5 320 L679.8 319.2 L678.6 318.9 L677.6 319.1 L676.9 319.7 L676.5 320.7 L676.4 321.9 L676.6 323.7 L677.2 325.3 L678.2 326.9 L679.5 328.2 L681.2 329.5 L683 330.4 L685 331 L687.2 331.2 L689.4 330.9 L691 330.4 L692.3 329.7 L693.4 328.5 L693.9 327.7 L694 326.8 L693.6 325.8 L692.9 325.1 L694.2 327 L695 329 L695.2 330.9 L695.1 332.9 L694.3 335.2 L693.3 336.9 L691.9 338.4 L690.6 339.4 L688.8 340.2 L686.9 340.5 L685.2 340.2 L683.9 339.7 L682.9 338.9 L682.2 337.7 L682.1 336.8 L682.6 335.5 L683.3 334.9 L684.3 334.4 L685.3 334.5 L686.4 334.8 L687.5 335.4 L688.7 336.4 L689.7 337.8 L690.5 339.6 L690.8 341.3 L690.7 343.4 L690.3 345.1 L689.4 346.8 L688.2 348.3 L686.7 349.4 L684.6 350.4 L682.5 350.6 L680.4 350.5 L678.3 349.8 L676.5 348.8 L674.7 347.2 L673.6 345.6 L672.8 344.2 L672.4 342.7 L672.3 341.4 L672.8 340 L673.4 339.3 L674.2 339.1 L675.4 339.2 L676.6 339.9 L677.7 341.1 L678.5 342.9 L678.9 344.9 L678.7 346.9 L678.1 348.8 L677.2 350.5 L676.2 352 L674.7 353.3 L672.9 354.4 L671.4 354.9 L669.7 355 L668.5 354.8 L667.4 354.1 L667 353.5 L666.9 352.8 L667.1 352.4 L667.7 351.9 L668.6 351.7 L669.9 351.7 L670.8 352.2 L671.9 352.8 L673.1 353.8 L674 355 L674.5 356.2 L674.8 357.8 L674.7 359.3 L674.3 360.4 L673.5 361.5 L672.3 362.7 L670.7 363.5 L669.1 363.9 L667.2 363.9 L665.3 363.5 L663.6 362.7 L662.1 361.6 L661 360.4 L660.3 359.3 L659.8 358.1 L659.6 356.9 L659.7 355.6 L660.1 354.6 L660.6 353.9 L661.3 353.5 L662.1 353.4 L663 353.8 L663.4 354.4 L663.8 355.5 L663.6 356.8 L663.1 357.7 L662.1 358.9 L660.7 359.8 L658.8 360.5 L657 360.6 L655.1 360.3 L653.3 359.7 L651.5 358.6 L649.8 356.9 L648.7 355.1 L648.1 353.2 L647.9 351.2 L648.2 349.3 L648.9 347.8 L649.9 346.6 L650.7 345.9 L652 345.6 L653.3 345.8 L654.1 346.3 L654.5 347.2 L654.6 348.4 L654.1 349.4 L653.2 350.4 L651.8 351.3 L650 351.8 L648.2 351.7 L646.4 351.3 L644.6 350.5 L643.1 349.3 L641.9 347.9 L641.1 346.3 L640.5 344.7 L640.4 343 L640.7 341 L641.4 339.3 L642.7 337.6 L644.2 336.4 L645.8 335.7 L647.5 335.3 L649 335.2 L650.5 335.5 L651.8 336.1 L652.7 336.8 L653.3 337.8 L653.7 338.6 L653.4 339.9 L652.7 340.9 L652 341.2 L650.9 341.4 L649.9 341.2 L648.9 340.6 L648.2 339.6 L648 338.5 L648.2 337.1 L648.9 335.8 L649.8 334.9 L651 334.1 L652.4 333.4 L654.1 332.8 L655.9 332.4 L657.6 332.4 L659.3 332.5 L660.9 333 L662.2 333.6 L663.2 334.4 L663.8 335.4 L664 336 L663.8 336.9 L663.5 337.3 L663 337.4 L661.9 337.4 L661.2 336.9 L660.3 336.2 L659.4 334.9 L658.9 333.7 L658.7 332.3 L658.6 330.8 L658.8 328.7 L659.5 326.8 L660.5 325.1 L661.8 323.6 L663.2 322.5 L664.9 321.9 L666.2 321.5 L667.5 321.5 L668.7 321.7 L669.7 322.4 L670.5 323.5 L670.8 324.4 L671 322.5 L670.9 321 L670.7 320 L670.2 319 L669.7 318.4 L669.3 318.2 L668.9 318.2 L668.3 318.7 L668 319.5 L668.1 320.4 L668.4 321.6 L669.1 322.9 L669.9 323.8 L671 324.7 L672.2 325.6 L673.8 326.4 L675.1 326.9 L676.5 327.2 L677.9 327.2 L679.2 326.9 L680.2 326.6 L680.9 326.1 L681.4 325.5 L681.5 324.8 L681.3 324.5 L680.9 324.3 L680.2 324.2 L679.5 324.5 L678.4 325 L677.4 326 L676.8 327.1 L676.3 328.6 L676 330.2 L676 331.9 L676.3 333.5 L676.9 335 L677.7 336.4 L678.6 337.6 L679.8 338.6 L681.3 339.2 L682.6 339.4 L683.7 339.5 L684.7 339 L685.3 338.7 L685.6 338.3 L685.8 337.5 L685.6 337 L685.2 336.8 L684.6 336.6 L684 336.7 L683 337 L682 337.7 L681.4 338.6 L680.7 339.8 L680.2 341.4 L680.2 342.8 L680.3 344.2 L680.7 345.6 L681.4 347.2 L682.6 348.6 L683.8 349.8 L685.3 350.6 L686.7 351.1 L688.3 351.2 L689.4 351.2 L690.4 350.8 L691 350.5 L691.4 350 L691.4 349.4 L691.1 349 L691.6 350.6 L691.7 352 L691.4 353.7 L690.6 355.3 L689.6 356.7 L688.1 357.9 L686.4 358.8 L684.7 359.2 L682.9 359.2 L681.4 359 L679.9 358.2 L678.9 357.5 L678.2 356.8 L677.8 355.6 L678.1 354.5 L678.5 353.9 L678.9 353.5 L679.6 353.3 L680 353.4 L680.5 353.8 L680.6 354.4 L680.9 355.4 L680.7 356.3 L680.3 357.4 L679.7 358.3 L678.7 359.2 L677.5 359.9 L676.4 360.2 L675.2 360.3 L674.1 360.1 L672.9 359.6 L672 358.8 L671.1 357.8 L670.5 356.4 L670.1 354.9 L670 353.4 L670.2 351.7 L670.7 350.1 L671.5 348.7 L672.1 347.7 L672.9 346.8 L673.7 346.2 L674.6 345.8 L675.4 345.7 L675.8 345.7 L676.1 345.8 L676.2 346.2 L676 346.9 L675.5 347.2 L674.6 347.7 L673.6 347.8 L672.5 347.7 L671.1 347.5 L669.8 347.1 L668.4 346.4 L666.8 345.4 L665.5 344.2 L664.4 342.9 L663.7 341.6 L663.2 340.2 L663.1 339 L663.4 337.8 L663.8 337.1 L664.5 336.6 L665.3 336.6 L666 336.8 L666.5 337.4 L667.1 338.4 L667.3 339.6 L667.3 341 L666.8 342.4 L666 343.8 L664.6 345.4 L662.6 346.6 L660.5 347.2 L658.7 347.3 L656.5 347.1 L654.2 346.3 L652.6 345.2 L651 343.7 L650 341.9 L649.4 340.1 L649.4 338.1 L649.7 336.7 L650.6 335.4 L651.7 334.5 L652.8 334.1 L653.7 334.2 L654.4 334.5 L654.9 335.2 L655.3 336.4 L655.2 337.7 L654.6 338.8 L653.7 340 L652.4 341.1 L650.6 342 L648.5 342.3 L646.5 342.1 L644.8 341.1 L643.6 339.7 L642.6 337.9 L642.2 335.8 L642.3 334.1 L642.9 332.1 L643.9 330.5 L645.1 329 L646.3 328 L647.9 327.1 L649.6 326.5 L651.3 326.4 L652.6 326.5 L653.8 326.8 L655 327.6 L655.8 328.4 L656.4 329.1 L656.6 330.1 L656.7 330.9 L656.4 331.8 L656 332.3 L655.2 332.6 L654.8 332.5 L654.1 332.1 L653.7 331.3 L653.6 330.3 L653.6 328.9 L654.2 327.4 L654.9 326.1 L656.1 324.6 L657.4 323.5 L659.2 322.4 L660.9 321.7 L662.8 321.4 L664.6 321.5 L666.4 321.9 L668 322.9 L669.2 324.2 L669.8 325.2 L670 326.7 L669.7 328 L669.2 328.9 L668.2 329.7 L666.9 330.1 L665.7 329.9 L664.9 329.5 L664.3 328.7 L664.1 327.8 L664.1 326.6 L664.5 325.6 L665.4 324.2 L666.6 323.3 L668 322.6 L669.6 322.3 L671.6 322.2 L673.3 322.6 L675.1 323.3 L676.6 324.3 L678.3 326 L679.3 327.8 L679.9 330.1 L680 332.3 L679.6 334.3 L678.8 336.1 L677.9 337.4 L676.8 338.5 L675.3 339.3 L674.1 339.6 L672.9 339.6 L671.7 339 L671.3 338.2 L671.1 337.1 L671.4 336.4 L672.1 335.8 L672.9 335.3 L673.9 335.2 L675.2 335.2 L676.7 335.5 L678.1 336.3 L679.2 337.3 L680.3 338.7 L681 340.3 L681.3 341.9 L681.4 343.7 L681.4 343.2 L681 342.6 L680.3 342.2 L679.2 341.9 L678.1 342 L676.8 342.4 L675.5 343 L674 344.1 L672.8 345.4 L671.9 346.8 L671.3 348.6 L671 350.2 L671.1 351.8 L671.6 353.8 L672.6 355.1 L673.7 356.2 L675.2 357.1 L676.7 357.6 L678.2 357.8 L679.3 357.8 L680.5 357.4 L681.3 356.8 L681.8 356.2 L682.1 355.7 L681.9 355 L681.5 354.6 L681.1 354.4 L680.5 354.5 L679.7 354.5 L679 354.9 L678.7 355.3 L678.6 355.9 L678.6 356.4 L678.9 357.1 L679.4 357.7 L680.2 358.4 L681.3 359 L682.7 359.3 L684.3 359.4 L686 359.1 L687.4 358.5 L689 357.5 L690.3 356.1 L691 354.7 L691.6 353 L691.8 351.5 L691.7 349.8 L691.4 348.3 L690.7 346.9 L690 345.8 L688.9 344.9 L687.8 344.4 L686.8 344.3 L686 344.3 L685.3 344.7 L684.9 345.1 L684.5 345.5 L684.2 346.2 L684.1 346.8 L684.2 347.4 L684.7 348 L685.1 348.3 L685.8 348.3 L686.5 347.9 L686.8 347.2 L687.1 346.3 L687.3 344.9 L687.2 343.6 L686.8 341.8 L685.9 339.9 L686.1 340.6 L686 341.5 L685.6 342.6 L684.7 343.6 L683.5 344.1 L682.2 344.3 L680.8 344 L679.1 343.4 L677.5 342.2 L676.3 340.7 L675.4 338.8 L674.8 336.7 L674.7 334.3 L675.2 332 L676.1 330 L677.5 328.2 L679 327 L680.9 326.2 L682.5 325.7 L684.4 325.8 L686 326.4 L687 327 L687.7 328.1 L687.9 329.1 L687.5 330.1 L686.9 330.8 L685.8 331.4 L684.3 331.8 L682.8 331.6 L680.8 331.1 L678.8 330.1 L677.3 328.9 L675.9 327.4 L674.9 325.7 L674.3 324.3 L674 322.8 L674.1 321.4 L674.6 320.2 L675.3 319.5 L676.1 319.2 L676.6 319.3 L677 319.5 L677.7 320.4 L677.7 321.2 L677.6 322.3 L677 323.1 L676.2 324 L675.1 324.6 L673.8 325.1 L672.5 325.3 L670.8 325.5 L669.2 325.3 L667.7 324.8 L666.1 324.1 L665 323.3 L664 322.5 L664.1 323.6 L664.4 324.5 L664.7 325.2 L665.2 325.8 L665.8 326.3 L666.7 326.3 L667.2 326.3 L667.5 326 L667.5 325.7 L667.4 324.8 L666.8 324 L666 323.5 L664.7 322.7 L663.4 322.3 L663.7 323 L664.2 324.1 L664.2 325.2 L663.8 326.2 L663.1 327.3 L661.9 328.1 L660.6 328.5 L659.1 328.8 L657.3 328.7 L655.6 328.4 L653.8 327.7 L652.3 326.8 L650.9 325.6 L650 324.7 L649.3 323.4 L649.2 322.2 L649.4 321.2 L649.8 320.8 L650.5 320.6 L651.4 320.8 L652.2 321.4 L652.7 322.4 L653.2 323.6 L653.5 325 L653.4 326.5 L653.2 327.9 L652.8 329.3 L652 330.8 L652.2 330.5 L652.1 330.1 L651.8 329.8 L651.1 329.2 L650.2 328.9 L649 328.8 L647.6 329 L646.2 329.5 L645 330.3 L643.8 331.5 L642.8 333 L642.2 334.6 L642.1 336.2 L642.2 337.7 L642.9 339.2 L643.7 340.3 L644.7 341.3 L645.9 342 L647.4 342.4 L648.6 342.6 L649.9 342.5 L651.1 342 L651.8 341.7 L652.4 341.2 L652.9 340.8 L653 340.3 L652.9 339.8 L652.8 339.7 L652.4 339.5 L652 339.7 L651.7 340 L651.1 340.6 L650.7 341.6 L650.7 342.6 L650.8 343.6 L651.2 344.8 L651.8 346.2 L652.7 347.2 L653.9 348.4 L655.3 349.1 L657 349.7 L658.5 349.8 L658 350 L657.6 349.8 L657.1 349.2 L656.7 348.2 L656.8 346.8 L657.2 345.5 L658 344.2 L659 343 L660.4 341.7 L662.2 340.6 L664 339.9 L666.1 339.6 L667.6 339.6 L669.1 339.8 L670.1 340.4 L670.9 341.3 L671.2 342.2 L671.1 342.8 L670.6 343.5 L669.9 343.5 L668.8 343.6 L667.6 343.2 L666.4 342.6 L665.2 341.7 L664 340.5 L663.3 339.3 L662.6 337.7 L662.3 336.3 L662.5 337.1" fill="none" stroke="#fdd88a" stroke-width="1.2" stroke-linejoin="round"/>
<path d="M653,270.8 C657,266 660,262 661,257.5 C657,256 656.5,247 661.8,246.6 C667,246.6 667,256 662,256.5 C665,260 670,259 675,258 C681,257 684,254 689.8,247.1" fill="none" stroke="#e8262b" stroke-width="1.6"/>
<path d="M677,320 C684,319 690,318 694,316 C691,313 692,308.5 697,308.5 C702,308.5 701.5,315 697.5,316 C702,322 708,328 718.8,331.6" fill="none" stroke="#e8262b" stroke-width="1.6"/>
<rect x="57.4" y="196.9" width="36.2" height="35.9" fill="none" stroke="#222" stroke-width="1.1"/>
<rect x="163.6" y="228.7" width="30.3" height="36.1" fill="none" stroke="#222" stroke-width="1.1"/>
<rect x="269.3" y="347.2" width="33.7" height="28" fill="none" stroke="#222" stroke-width="1.1"/>
<rect x="368.5" y="364.6" width="38.2" height="36.6" fill="none" stroke="#222" stroke-width="1.1"/>
<rect x="518.6" y="312.2" width="31.9" height="37.1" fill="none" stroke="#222" stroke-width="1.1"/>
<rect x="593.4" y="238.2" width="48.4" height="43.3" fill="none" stroke="#222" stroke-width="1.1"/>
<rect x="620.5" y="288" width="102.8" height="92.6" fill="none" stroke="#222" stroke-width="1.1"/>
<text transform="translate(57.6,187.8) scale(1.05,1)" font-size="16" fill="#111" font-weight="bold">DNA</text>
<text transform="translate(161.1,223.5) scale(1.04,1)" font-size="16" fill="#111" font-weight="bold">RNA</text>
<text transform="translate(265,392.7) scale(1.03,1)" font-size="16" fill="#111" font-weight="bold">LLPS</text>
<text transform="translate(369.2,419.6) scale(1.035,1)" font-size="16" fill="#111" font-weight="bold">Nucleosome</text>
<text transform="translate(449,298.2) scale(1.117,1)" font-size="15" fill="#111" font-weight="bold">Chromatin loop</text>
<text transform="translate(593.4,199) scale(1.117,1)" font-size="15" fill="#111" font-weight="bold">Chromosome territory</text>
<text transform="translate(556.9,253.1) scale(1.07,1)" font-size="15.3" fill="#111" font-weight="bold">TAD</text>
<text transform="translate(617.8,397.2) scale(1.117,1)" font-size="15" fill="#111" font-weight="bold">Compartment</text>
<text x="86.4" y="252.4" font-size="9.3" fill="#222" font-weight="normal">DNA</text>
<text x="86.4" y="263.9" font-size="9.3" fill="#222" font-weight="normal">methylation</text>
<text x="280" y="409.9" font-size="9.3" fill="#222" font-weight="normal">Histone</text>
<text x="280" y="420.7" font-size="9.3" fill="#222" font-weight="normal">modification</text>
<rect x="4" y="470" width="786" height="2" fill="#111"/>
<rect x="182.7" y="461.2" width="1.6" height="9.5" fill="#111"/>
<text transform="translate(160.8,456.7) scale(1.05,1)" font-size="13.4" fill="#111" font-weight="normal">100 bp</text>
<rect x="376.2" y="461.2" width="1.6" height="9.5" fill="#111"/>
<text transform="translate(362.3,456.7) scale(1.05,1)" font-size="13.4" fill="#111" font-weight="normal">1 kb</text>
<rect x="491.2" y="461.2" width="1.6" height="9.5" fill="#111"/>
<text transform="translate(475.3,456.7) scale(1.05,1)" font-size="13.4" fill="#111" font-weight="normal">10 kb</text>
<rect x="594.6" y="461.2" width="1.6" height="9.5" fill="#111"/>
<text transform="translate(576.9,456.7) scale(1.05,1)" font-size="13.4" fill="#111" font-weight="normal">40 kb</text>
<rect x="684.7" y="461.2" width="1.6" height="9.5" fill="#111"/>
<text transform="translate(661.8,456.7) scale(1.05,1)" font-size="13.4" fill="#111" font-weight="normal">100 Mb</text>
<rect x="9.5" y="378.5" width="146.5" height="51" fill="none" stroke="#3a3a3a" stroke-width="1.3" stroke-dasharray="4.6 2.8"/>
<rect x="21.8" y="390.3" width="12.7" height="5.8" fill="#cfcfcf" stroke="#9a9a9a" stroke-width="0.8"/>
<rect x="21.8" y="402.4" width="12.7" height="5.8" fill="#dde27a" stroke="#9a9a9a" stroke-width="0.8"/>
<path d="M20.5,419.5 C23,418 25,421 27,419 L26.8,416.5 M28.5,419.5 C30,421 32,418 34,420 C35,421 36,419 37.2,419.5" fill="none" stroke="#e8262b" stroke-width="1.1"/><circle cx="26.8" cy="415.3" r="1.6" fill="none" stroke="#e8262b" stroke-width="1"/>
<text x="40.8" y="396.3" font-size="9.6" fill="#1d1d2d" font-weight="normal">Promoter</text>
<text x="40.8" y="407.6" font-size="9.6" fill="#1d1d2d" font-weight="normal">Enhancer</text>
<text x="40.8" y="420.1" font-size="9.6" fill="#1d1d2d" font-weight="normal">RNA</text>
<circle cx="99.4" cy="393.3" r="4.3" fill="#1f2a8a" stroke="#15206a" stroke-width="0.6"/>
<circle cx="99.4" cy="405.7" r="4.2" fill="#a8dcc8" stroke="#5cb890" stroke-width="0.7"/>
<ellipse cx="99.4" cy="418.6" rx="6.3" ry="2.8" fill="none" stroke="#f5a623" stroke-width="1.1"/>
<text x="108.8" y="396.1" font-size="9.6" fill="#1d1d2d" font-weight="normal">CTCF</text>
<text x="108.8" y="409.4" font-size="9.6" fill="#1d1d2d" font-weight="normal">YY1</text>
<text x="108.8" y="421.4" font-size="9.6" fill="#1d1d2d" font-weight="normal">Cohesin</text>
</svg></body></html>
